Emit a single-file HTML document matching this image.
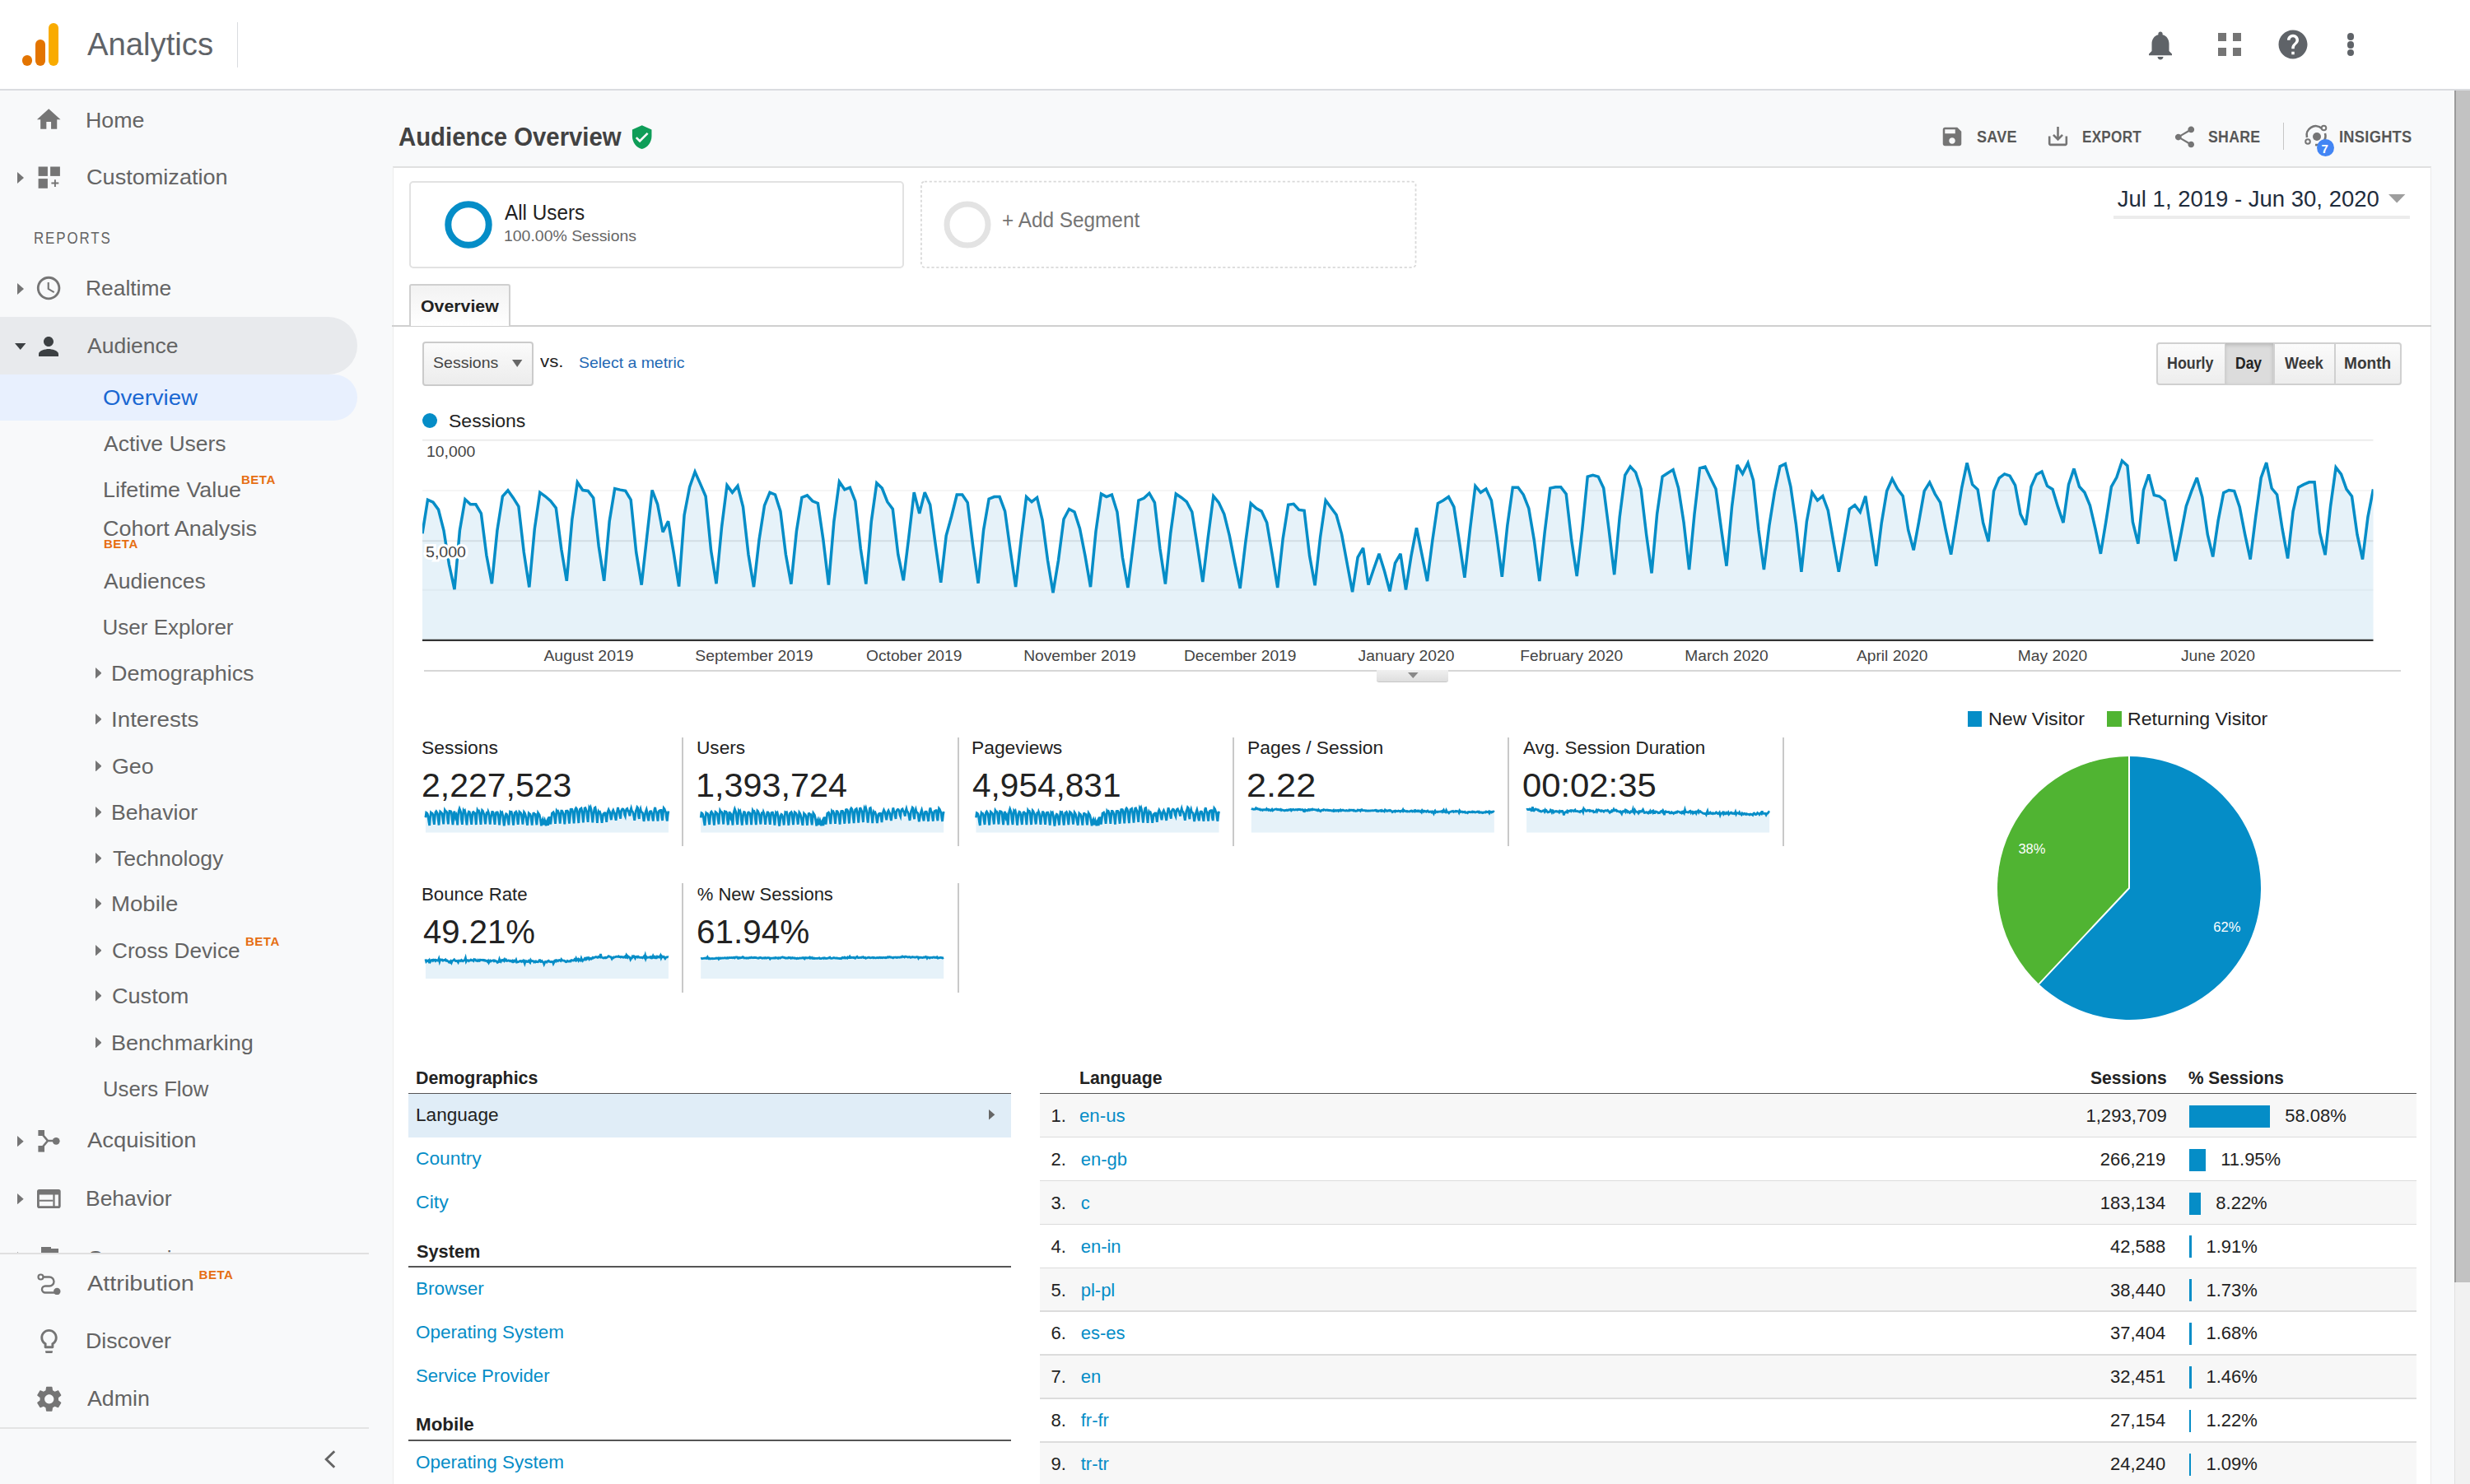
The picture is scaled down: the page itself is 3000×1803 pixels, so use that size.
<!DOCTYPE html><html><head><meta charset="utf-8"><style>
html,body{margin:0;padding:0;}
body{width:3000px;height:1803px;overflow:hidden;position:relative;background:#f8f9fa;font-family:"Liberation Sans", sans-serif;}
.t{position:absolute;white-space:nowrap;line-height:1;}
svg{display:block}
</style></head><body>
<div style="position:absolute;left:0.0px;top:0.0px;width:3000.0px;height:108.0px;background:#fff;"></div>
<div style="position:absolute;left:0.0px;top:108.0px;width:3000.0px;height:2.0px;background:#dadce0;"></div>
<div style="position:absolute;left:58.6px;top:28.0px;width:12.4px;height:51.6px;background:#f9ab00;border-radius:6.2px;"></div>
<div style="position:absolute;left:42.5px;top:47.5px;width:12.8px;height:32.1px;background:#e37400;border-radius:6.4px;"></div>
<div style="position:absolute;left:26.7px;top:67px;width:12.6px;height:12.6px;border-radius:50%;background:#e37400;"></div>
<div class="t" id="k0" style="left:106.0px;top:35.0px;font-size:39px;color:#5f6368;transform-origin:0 50%;transform:scaleX(0.9813);margin-top:-1px;">Analytics</div>
<div style="position:absolute;left:287.5px;top:26.5px;width:1.5px;height:55.0px;background:#dadce0;"></div>
<svg style="position:absolute;left:2603.0px;top:33.8px" width="42.0" height="42.0" viewBox="0 0 24 24"><path fill="#5f6368" d="M12 22c1.1 0 2-.9 2-2h-4c0 1.1.89 2 2 2zm6-6v-5c0-3.07-1.64-5.64-4.5-6.32V4c0-.83-.67-1.5-1.5-1.5s-1.5.67-1.5 1.5v.68C7.63 5.36 6 7.92 6 11v5l-2 2v1h16v-1l-2-2z"/></svg>
<div style="position:absolute;left:2694.0px;top:40.0px;width:10.2px;height:10.2px;background:#757575;"></div>
<div style="position:absolute;left:2711.8px;top:40.0px;width:10.2px;height:10.2px;background:#757575;"></div>
<div style="position:absolute;left:2694.0px;top:57.8px;width:10.2px;height:10.2px;background:#757575;"></div>
<div style="position:absolute;left:2711.8px;top:57.8px;width:10.2px;height:10.2px;background:#757575;"></div>
<svg style="position:absolute;left:2763.8px;top:32.9px" width="42.0" height="42.0" viewBox="0 0 24 24"><path fill="#5f6368" d="M12 2C6.48 2 2 6.48 2 12s4.48 10 10 10 10-4.48 10-10S17.52 2 12 2zm1 17h-2v-2h2v2zm2.07-7.75l-.9.92C13.45 12.9 13 13.5 13 15h-2v-.5c0-1.1.45-2.1 1.17-2.83l1.24-1.26c.37-.36.59-.86.59-1.41 0-1.1-.9-2-2-2s-2 .9-2 2H8c0-2.21 1.79-4 4-4s4 1.79 4 4c0 .88-.36 1.68-.93 2.25z"/></svg>
<div style="position:absolute;left:2850.6px;top:40px;width:8.6px;height:8.6px;border-radius:50%;background:#5f6368;"></div>
<div style="position:absolute;left:2850.6px;top:50px;width:8.6px;height:8.6px;border-radius:50%;background:#5f6368;"></div>
<div style="position:absolute;left:2850.6px;top:59.6px;width:8.6px;height:8.6px;border-radius:50%;background:#5f6368;"></div>
<div style="position:absolute;left:0.0px;top:385.0px;width:434.0px;height:69.5px;background:#e8eaed;border-radius:0 35px 35px 0;"></div>
<div style="position:absolute;left:0.0px;top:454.5px;width:434.0px;height:56.0px;background:#e8f0fe;border-radius:0 28px 28px 0;"></div>
<svg style="position:absolute;left:42.2px;top:128.2px" width="34.4" height="34.4" viewBox="0 0 24 24"><path fill="#757575" d="M10 20v-6h4v6h5v-8h3L12 3 2 12h3v8z"/></svg>
<div class="t" id="k1" style="left:103.6px;top:132.7px;font-size:26px;color:#646464;transform-origin:0 50%;transform:scaleX(1.0303);">Home</div>
<svg style="position:absolute;left:21px;top:209px" width="8" height="14"><path d="M0 0L8 7.0L0 14z" fill="#757575"/></svg>
<svg style="position:absolute;left:40px;top:196px" width="40" height="40" viewBox="0 0 40 40"><rect x="6.6" y="6.5" width="11.3" height="11.4" fill="#757575"/><rect x="21.1" y="6.5" width="11.8" height="11.4" fill="#757575"/><rect x="6.6" y="21.1" width="11.3" height="11.7" fill="#757575"/><path d="M26.9 22.2V30.9M22.4 26.55H31.3" stroke="#757575" stroke-width="1.9"/></svg>
<div class="t" id="k2" style="left:105.0px;top:202.0px;font-size:26px;color:#646464;transform-origin:0 50%;transform:scaleX(1.0420);">Customization</div>
<div class="t" id="k3" style="left:41.4px;top:279.5px;font-size:19.5px;color:#646464;letter-spacing:2.2px;transform-origin:0 50%;transform:scaleX(0.8648);">REPORTS</div>
<svg style="position:absolute;left:21px;top:343.5px" width="8" height="14"><path d="M0 0L8 7.0L0 14z" fill="#757575"/></svg>
<svg style="position:absolute;left:42.3px;top:333.4px" width="34.2" height="34.2" viewBox="0 0 24 24"><path fill="#757575" d="M11.99 2C6.47 2 2 6.48 2 12s4.47 10 9.99 10C17.52 22 22 17.52 22 12S17.52 2 11.99 2zM12 20c-4.42 0-8-3.58-8-8s3.58-8 8-8 8 3.58 8 8-3.58 8-8 8zm.5-13H11v6l5.25 3.15.75-1.23-4.5-2.67z"/></svg>
<div class="t" id="k4" style="left:104.0px;top:337.3px;font-size:26px;color:#646464;transform-origin:0 50%;transform:scaleX(1.0150);">Realtime</div>
<svg style="position:absolute;left:17.8px;top:416.7px" width="13.5" height="8"><path d="M0 0L13.5 0L6.75 8z" fill="#3c4043"/></svg>
<svg style="position:absolute;left:41.2px;top:402.6px" width="36.0" height="36.0" viewBox="0 0 24 24"><path fill="#3c4043" d="M12 12c2.21 0 4-1.79 4-4s-1.79-4-4-4-4 1.79-4 4 1.79 4 4 4zm0 2c-2.67 0-8 1.34-8 4v2h16v-2c0-2.66-5.33-4-8-4z"/></svg>
<div class="t" id="k5" style="left:106.0px;top:406.8px;font-size:26px;color:#646464;transform-origin:0 50%;transform:scaleX(1.0187);">Audience</div>
<div class="t" id="k6" style="left:124.5px;top:469.6px;font-size:26px;color:#1967d2;transform-origin:0 50%;transform:scaleX(1.0617);">Overview</div>
<div class="t" id="k7" style="left:125.6px;top:525.6px;font-size:26px;color:#646464;transform-origin:0 50%;transform:scaleX(1.0181);">Active Users</div>
<div class="t" id="k8" style="left:124.5px;top:581.5px;font-size:26px;color:#646464;transform-origin:0 50%;transform:scaleX(1.0319);">Lifetime Value</div>
<div class="t" id="k9" style="left:293.0px;top:576.7px;font-size:15px;color:#e66e12;font-weight:bold;letter-spacing:0.5px;transform-origin:0 50%;margin-top:-1.5px;">BETA</div>
<div class="t" id="k10" style="left:124.5px;top:627.3px;font-size:26px;color:#646464;transform-origin:0 50%;transform:scaleX(1.0354);margin-top:1.8px;">Cohort Analysis</div>
<div class="t" id="k11" style="left:126.0px;top:653.3px;font-size:15px;color:#e66e12;font-weight:bold;letter-spacing:0.5px;transform-origin:0 50%;">BETA</div>
<div class="t" id="k12" style="left:125.6px;top:693.0px;font-size:26px;color:#646464;transform-origin:0 50%;transform:scaleX(1.0200);">Audiences</div>
<div class="t" id="k13" style="left:124.6px;top:748.6px;font-size:26px;color:#646464;transform-origin:0 50%;">User Explorer</div>
<svg style="position:absolute;left:115.5px;top:811px" width="7.5" height="13.5"><path d="M0 0L7.5 6.75L0 13.5z" fill="#757575"/></svg>
<div class="t" id="k14" style="left:134.9px;top:805.0px;font-size:26px;color:#646464;transform-origin:0 50%;transform:scaleX(1.0354);">Demographics</div>
<svg style="position:absolute;left:115.5px;top:866.5px" width="7.5" height="13.5"><path d="M0 0L7.5 6.75L0 13.5z" fill="#757575"/></svg>
<div class="t" id="k15" style="left:134.8px;top:860.5px;font-size:26px;color:#646464;transform-origin:0 50%;transform:scaleX(1.0667);">Interests</div>
<svg style="position:absolute;left:115.5px;top:923.8px" width="7.5" height="13.5"><path d="M0 0L7.5 6.75L0 13.5z" fill="#757575"/></svg>
<div class="t" id="k16" style="left:135.9px;top:917.8px;font-size:26px;color:#646464;transform-origin:0 50%;transform:scaleX(1.0319);">Geo</div>
<svg style="position:absolute;left:115.5px;top:980px" width="7.5" height="13.5"><path d="M0 0L7.5 6.75L0 13.5z" fill="#757575"/></svg>
<div class="t" id="k17" style="left:134.9px;top:974.0px;font-size:26px;color:#646464;transform-origin:0 50%;transform:scaleX(1.0240);">Behavior</div>
<svg style="position:absolute;left:115.5px;top:1035.6px" width="7.5" height="13.5"><path d="M0 0L7.5 6.75L0 13.5z" fill="#757575"/></svg>
<div class="t" id="k18" style="left:137.0px;top:1029.6px;font-size:26px;color:#646464;transform-origin:0 50%;transform:scaleX(1.0206);">Technology</div>
<svg style="position:absolute;left:115.5px;top:1091px" width="7.5" height="13.5"><path d="M0 0L7.5 6.75L0 13.5z" fill="#757575"/></svg>
<div class="t" id="k19" style="left:134.8px;top:1085.0px;font-size:26px;color:#646464;transform-origin:0 50%;transform:scaleX(1.0616);">Mobile</div>
<svg style="position:absolute;left:115.5px;top:1147.5px" width="7.5" height="13.5"><path d="M0 0L7.5 6.75L0 13.5z" fill="#757575"/></svg>
<div class="t" id="k20" style="left:136.0px;top:1141.5px;font-size:26px;color:#646464;transform-origin:0 50%;transform:scaleX(1.0059);">Cross Device</div>
<svg style="position:absolute;left:115.5px;top:1203.4px" width="7.5" height="13.5"><path d="M0 0L7.5 6.75L0 13.5z" fill="#757575"/></svg>
<div class="t" id="k21" style="left:135.9px;top:1197.4px;font-size:26px;color:#646464;transform-origin:0 50%;transform:scaleX(1.0414);">Custom</div>
<svg style="position:absolute;left:115.5px;top:1259.7px" width="7.5" height="13.5"><path d="M0 0L7.5 6.75L0 13.5z" fill="#757575"/></svg>
<div class="t" id="k22" style="left:134.9px;top:1253.7px;font-size:26px;color:#646464;transform-origin:0 50%;transform:scaleX(1.0395);">Benchmarking</div>
<div class="t" id="k23" style="left:298.0px;top:1135.9px;font-size:15px;color:#e66e12;font-weight:bold;letter-spacing:0.5px;transform-origin:0 50%;">BETA</div>
<div class="t" id="k24" style="left:124.6px;top:1310.0px;font-size:26px;color:#646464;transform-origin:0 50%;transform:scaleX(0.9875);">Users Flow</div>
<svg style="position:absolute;left:21.3px;top:1379.8px" width="7.7" height="13.3"><path d="M0 0L7.7 6.65L0 13.3z" fill="#757575"/></svg>
<svg style="position:absolute;left:44px;top:1370px" width="32" height="32" viewBox="0 0 32 32"><rect x="2.4" y="3" width="7.6" height="7" fill="#757575"/><rect x="2.4" y="22" width="7.6" height="7.6" fill="#757575"/><path d="M6 6.5L14 16L6 25.5M14 16H24" stroke="#757575" stroke-width="2.6" fill="none"/><circle cx="24.2" cy="16.3" r="4.4" fill="#757575"/></svg>
<div class="t" id="k25" style="left:106.1px;top:1371.6px;font-size:26px;color:#646464;transform-origin:0 50%;transform:scaleX(1.0548);">Acquisition</div>
<svg style="position:absolute;left:21.3px;top:1450px" width="7.7" height="13.3"><path d="M0 0L7.7 6.65L0 13.3z" fill="#757575"/></svg>
<svg style="position:absolute;left:45.2px;top:1444.9px" width="28.7" height="23.1" viewBox="0 0 28.7 23.1"><path d="M2.5 0H26.2A2.5 2.5 0 0 1 28.7 2.5V20.6A2.5 2.5 0 0 1 26.2 23.1H2.5A2.5 2.5 0 0 1 0 20.6V2.5A2.5 2.5 0 0 1 2.5 0ZM2.8 6.6V20.3H19.4V6.6ZM21.6 6.6V20.3H25.9V6.6Z" fill="#757575" fill-rule="evenodd"/><rect x="2.8" y="12.7" width="16.6" height="2" fill="#757575"/></svg>
<div class="t" id="k26" style="left:103.9px;top:1443.0px;font-size:26px;color:#646464;transform-origin:0 50%;transform:scaleX(1.0180);">Behavior</div>
<svg style="position:absolute;left:21.3px;top:1521px" width="7.7" height="13.3"><path d="M0 0L7.7 6.65L0 13.3z" fill="#757575"/></svg>
<div style="position:absolute;left:49.5px;top:1514.5px;width:12.5px;height:8.0px;background:#757575;"></div>
<div style="position:absolute;left:62.0px;top:1516.5px;width:9.0px;height:6.0px;background:#757575;"></div>
<div class="t" id="k27" style="left:106.0px;top:1515.5px;font-size:26px;color:#646464;transform-origin:0 50%;">Conversions</div>
<div style="position:absolute;left:0.0px;top:1522.0px;width:478.0px;height:281.0px;background:#f8f9fa;"></div>
<div style="position:absolute;left:0.0px;top:1522.0px;width:448.0px;height:1.5px;background:#e0e0e0;"></div>
<svg style="position:absolute;left:44.8px;top:1546.6px" width="29" height="26" viewBox="0 0 29 26"><circle cx="4.5" cy="4.5" r="3" stroke="#757575" stroke-width="2.2" fill="none"/><path d="M7.5 4.5H15A5.5 5.5 0 0 1 15 15.5H10A4 4 0 0 0 10 23.5H23" stroke="#757575" stroke-width="2.4" fill="none"/><circle cx="24.3" cy="22" r="4.2" fill="#757575"/></svg>
<div class="t" id="k28" style="left:105.9px;top:1545.8px;font-size:26px;color:#646464;transform-origin:0 50%;transform:scaleX(1.1096);">Attribution</div>
<div class="t" id="k29" style="left:241.6px;top:1541.3px;font-size:15px;color:#e66e12;font-weight:bold;letter-spacing:0.5px;transform-origin:0 50%;">BETA</div>
<svg style="position:absolute;left:41.5px;top:1611.5px" width="35.0" height="35.0" viewBox="0 0 24 24"><path fill="#757575" d="M9 21c0 .55.45 1 1 1h4c.55 0 1-.45 1-1v-1H9v1zm3-19C8.14 2 5 5.14 5 9c0 2.38 1.19 4.47 3 5.74V17c0 .55.45 1 1 1h6c.55 0 1-.45 1-1v-2.26c1.81-1.27 3-3.36 3-5.74 0-3.86-3.14-7-7-7zm2.85 11.1l-.85.6V16h-4v-2.3l-.85-.6C7.8 12.160 7 10.63 7 9c0-2.76 2.24-5 5-5s5 2.24 5 5c0 1.630-.8 3.16-2.15 4.1z"/></svg>
<div class="t" id="k30" style="left:103.8px;top:1615.6px;font-size:26px;color:#646464;transform-origin:0 50%;transform:scaleX(1.0283);">Discover</div>
<svg style="position:absolute;left:40.6px;top:1681.4px" width="37.5" height="37.5" viewBox="0 0 24 24"><path fill="#757575" d="M19.14 12.94c.04-.3.06-.61.06-.94 0-.32-.02-.64-.07-.94l2.03-1.58c.18-.14.23-.41.12-.61l-1.92-3.32c-.12-.22-.37-.29-.59-.22l-2.39.96c-.5-.38-1.03-.7-1.62-.94l-.36-2.54c-.04-.24-.24-.41-.48-.41h-3.84c-.24 0-.43.17-.47.41l-.36 2.540c-.59.24-1.13.57-1.62.94l-2.39-.96c-.22-.08-.47 0-.59.22L2.74 8.87c-.12.21-.08.47.12.61l2.03 1.58c-.05.3-.09.63-.09.94s.02.64.07.94l-2.03 1.58c-.18.14-.23.41-.12.61l1.92 3.32c.12.22.37.29.59.22l2.39-.96c.5.38 1.030.7 1.62.94l.36 2.54c.05.24.24.41.48.41h3.84c.24 0 .44-.17.47-.41l.36-2.54c.59-.24 1.13-.56 1.62-.94l2.39.96c.22.08.47 0 .59-.22l1.92-3.32c.12-.22.07-.47-.12-.61l-2.01-1.58zM12 15.6c-1.98 0-3.6-1.62-3.6-3.6s1.62-3.6 3.6-3.6 3.6 1.62 3.6 3.6-1.62 3.6-3.6 3.6z"/></svg>
<div class="t" id="k31" style="left:105.9px;top:1686.0px;font-size:26px;color:#646464;transform-origin:0 50%;transform:scaleX(1.0292);">Admin</div>
<div style="position:absolute;left:0.0px;top:1734.0px;width:448.0px;height:2.0px;background:#e4e4e4;"></div>
<svg style="position:absolute;left:393px;top:1761px" width="16" height="24" viewBox="0 0 16 24"><path d="M13.2 2.2L3.2 12L13.2 21.8" stroke="#646464" stroke-width="2.9" fill="none"/></svg>
<div class="t" id="k32" style="left:483.5px;top:150.3px;font-size:32px;color:#424242;font-weight:bold;transform-origin:0 50%;transform:scaleX(0.9167);">Audience Overview</div>
<svg style="position:absolute;left:763.6px;top:151.0px" width="31.4" height="31.4" viewBox="0 0 24 24"><path fill="#0f9d58" d="M12 1L3 5v6c0 5.55 3.84 10.74 9 12 5.16-1.26 9-6.45 9-12V5l-9-4zm-2 16l-4-4 1.41-1.41L10 14.17l6.59-6.59L18 9l-8 8z"/></svg>
<svg style="position:absolute;left:2356.0px;top:151.0px" width="30.0" height="30.0" viewBox="0 0 24 24"><path fill="#757575" d="M17 3H5c-1.11 0-2 .9-2 2v14c0 1.1.89 2 2 2h14c1.1 0 2-.9 2-2V7l-4-4zm-5 16c-1.66 0-3-1.34-3-3s1.34-3 3-3 3 1.34 3 3-1.34 3-3 3zm3-10H5V5h10v4z"/></svg>
<div class="t" id="k33" style="left:2400.9px;top:156.3px;font-size:20px;color:#575757;font-weight:bold;letter-spacing:0.3px;transform-origin:0 50%;transform:scaleX(0.9000);">SAVE</div>
<svg style="position:absolute;left:2484.0px;top:150.0px" width="31.0" height="31.0" viewBox="0 0 24 24"><path fill="#757575" d="M19 12v7H5v-7H3v7c0 1.1.9 2 2 2h14c1.1 0 2-.9 2-2v-7h-2zm-6 .67l2.59-2.58L17 11.5l-5 5-5-5 1.41-1.41L11 12.67V3h2z"/></svg>
<div class="t" id="k34" style="left:2529.0px;top:156.3px;font-size:20px;color:#575757;font-weight:bold;letter-spacing:0.3px;transform-origin:0 50%;transform:scaleX(0.8566);">EXPORT</div>
<svg style="position:absolute;left:2638.0px;top:150.5px" width="31.0" height="31.0" viewBox="0 0 24 24"><path fill="#757575" d="M18 16.08c-.76 0-1.44.3-1.96.77L8.91 12.7c.05-.23.09-.46.09-.7s-.04-.47-.09-.7l7.05-4.11c.54.5 1.25.81 2.04.81 1.66 0 3-1.34 3-3s-1.34-3-3-3-3 1.34-3 3c0 .24.04.47.09.7L8.04 9.81C7.5 9.31 6.79 9 6 9c-1.66 0-3 1.34-3 3s1.34 3 3 3c.79 0 1.5-.31 2.04-.81l7.12 4.16c-.05.21-.08.43-.08.65 0 1.61 1.31 2.92 2.92 2.92 1.61 0 2.92-1.310 2.92-2.92s-1.31-2.92-2.92-2.92z"/></svg>
<div class="t" id="k35" style="left:2681.5px;top:156.3px;font-size:20px;color:#575757;font-weight:bold;letter-spacing:0.3px;transform-origin:0 50%;transform:scaleX(0.8855);">SHARE</div>
<div style="position:absolute;left:2772.5px;top:149.0px;width:1.5px;height:33.0px;background:#c6c6c6;"></div>
<svg style="position:absolute;left:2798px;top:150px" width="32" height="32" viewBox="0 0 32 32"><path d="M4 17A11 11 0 0 1 22 6" stroke="#757575" stroke-width="2.6" fill="none"/><path d="M26 12A11 11 0 0 1 14 26" stroke="#757575" stroke-width="2.6" fill="none"/><circle cx="16" cy="16" r="5" fill="#757575"/><circle cx="24.5" cy="5.5" r="2.8" stroke="#757575" stroke-width="2" fill="#f8f9fa"/><circle cx="5" cy="22" r="2.8" stroke="#757575" stroke-width="2" fill="#f8f9fa"/></svg>
<div style="position:absolute;left:2814px;top:168.5px;width:21px;height:21px;border-radius:50%;background:#4285f4;"></div>
<div class="t" id="k36" style="left:2819.5px;top:173.3px;font-size:15px;color:#fff;font-weight:bold;transform-origin:0 50%;">7</div>
<div class="t" id="k37" style="left:2840.9px;top:156.3px;font-size:20px;color:#575757;font-weight:bold;letter-spacing:0.3px;transform-origin:0 50%;transform:scaleX(0.9138);">INSIGHTS</div>
<div style="position:absolute;left:476.5px;top:201.5px;width:2476.5px;height:1700.0px;background:#fff;border:1.5px solid #ececec;border-top:2px solid #e0e0e0;box-sizing:border-box;"></div>
<div style="position:absolute;left:496.6px;top:219.7px;width:601.4px;height:106.3px;border:2px solid #e2e2e2;border-radius:5px;box-sizing:border-box;"></div>
<svg style="position:absolute;left:536px;top:240px" width="66" height="66"><circle cx="33" cy="33" r="24.7" stroke="#058dc7" stroke-width="8" fill="none"/></svg>
<div class="t" id="k38" style="left:612.6px;top:245.8px;font-size:25px;color:#212121;transform-origin:0 50%;transform:scaleX(0.9714);">All Users</div>
<div class="t" id="k39" style="left:612.0px;top:276.6px;font-size:19px;color:#666;transform-origin:0 50%;transform:scaleX(1.0231);">100.00% Sessions</div>
<svg style="position:absolute;left:1117px;top:219px" width="605" height="108"><rect x="1.9" y="1.7" width="600.6" height="104.1" rx="4" fill="none" stroke="#d9d9d9" stroke-width="1.8" stroke-dasharray="3.2 2.6"/></svg>
<svg style="position:absolute;left:1141.5px;top:239.5px" width="66" height="66"><circle cx="33" cy="33" r="25" stroke="#e3e3e3" stroke-width="7" fill="none"/></svg>
<div class="t" id="k40" style="left:1216.9px;top:254.3px;font-size:26px;color:#757575;transform-origin:0 50%;transform:scaleX(0.9367);">+ Add Segment</div>
<div class="t" id="k41" style="right:110.2px;top:227.8px;font-size:27.5px;color:#1f2d3d;transform-origin:100% 50%;">Jul 1, 2019 - Jun 30, 2020</div>
<svg style="position:absolute;left:2901px;top:236px" width="21" height="11"><path d="M0 0H20.4L10.2 10.5z" fill="#9e9e9e"/></svg>
<div style="position:absolute;left:2567.0px;top:262.0px;width:360.0px;height:3.5px;background:#ececec;"></div>
<div style="position:absolute;left:476.0px;top:394.5px;width:2477.0px;height:2.0px;background:#cfcfcf;"></div>
<div style="position:absolute;left:497.0px;top:345.0px;width:123.0px;height:51.0px;background:linear-gradient(#f2f2f2,#fff);border:2px solid #cfcfcf;border-bottom:none;border-radius:3px 3px 0 0;box-sizing:border-box;"></div>
<div class="t" id="k42" style="left:511.0px;top:360.6px;font-size:21px;color:#222;font-weight:bold;transform-origin:0 50%;transform:scaleX(1.0141);">Overview</div>
<div style="position:absolute;left:513.2px;top:415.2px;width:134.6px;height:53.4px;background:linear-gradient(#fbfbfb,#ececec);border:2px solid #cbcbcb;border-radius:4px;box-sizing:border-box;"></div>
<div class="t" id="k43" style="left:526.0px;top:431.3px;font-size:19px;color:#444;transform-origin:0 50%;transform:scaleX(1.0293);">Sessions</div>
<svg style="position:absolute;left:622px;top:437px" width="13" height="10"><path d="M0 0H12.4L6.2 9z" fill="#666"/></svg>
<div class="t" id="k44" style="left:656.4px;top:429.1px;font-size:20px;color:#222;transform-origin:0 50%;transform:scaleX(1.1125);">vs.</div>
<div class="t" id="k45" style="left:703.4px;top:431.3px;font-size:19px;color:#1f69b4;transform-origin:0 50%;transform:scaleX(1.0234);">Select a metric</div>
<div style="position:absolute;left:2618.6px;top:415.5px;width:298.7px;height:52.5px;background:linear-gradient(#fbfbfb,#ededed);border:2px solid #d0d0d0;border-radius:4px;box-sizing:border-box;"></div>
<div style="position:absolute;left:2702.0px;top:417.0px;width:59.0px;height:49.5px;background:#dcdcdc;box-shadow:inset 0 2px 5px rgba(0,0,0,0.18);"></div>
<div style="position:absolute;left:2701.5px;top:417.0px;width:1.5px;height:49.5px;background:#d0d0d0;"></div>
<div style="position:absolute;left:2761.0px;top:417.0px;width:1.5px;height:49.5px;background:#d0d0d0;"></div>
<div style="position:absolute;left:2835.0px;top:417.0px;width:1.5px;height:49.5px;background:#d0d0d0;"></div>
<div class="t" id="k46" style="left:2632.1px;top:431.5px;font-size:19.5px;color:#3a3a3a;font-weight:bold;transform-origin:0 50%;transform:scaleX(0.9148);">Hourly</div>
<div class="t" id="k47" style="left:2715.1px;top:431.5px;font-size:19.5px;color:#222;font-weight:bold;transform-origin:0 50%;transform:scaleX(0.8971);">Day</div>
<div class="t" id="k48" style="left:2775.0px;top:431.5px;font-size:19.5px;color:#3a3a3a;font-weight:bold;transform-origin:0 50%;transform:scaleX(0.9240);">Week</div>
<div class="t" id="k49" style="left:2847.4px;top:431.5px;font-size:19.5px;color:#3a3a3a;font-weight:bold;transform-origin:0 50%;transform:scaleX(0.9786);">Month</div>
<div style="position:absolute;left:513px;top:502px;width:18px;height:18px;border-radius:50%;background:#058dc7;"></div>
<div class="t" id="k50" style="left:544.5px;top:500.6px;font-size:22px;color:#222;transform-origin:0 50%;transform:scaleX(1.0460);">Sessions</div>
<svg style="position:absolute;left:0;top:0" width="3000" height="830" viewBox="0 0 3000 830"><defs><clipPath id="cc"><rect x="513" y="500" width="1369.5" height="300"/><rect x="513" y="500" width="2369.5" height="300"/></clipPath></defs><path d="M513.0,777.7 L513.0,648.3 L519.5,607.2 L526.0,610.2 L532.5,619.1 L539.0,644.5 L545.5,686.0 L552.0,716.2 L558.4,644.5 L564.9,606.8 L571.4,612.8 L577.9,612.8 L584.4,623.8 L590.9,674.7 L597.4,709.2 L603.9,644.5 L610.4,603.0 L616.9,595.8 L623.4,604.9 L629.9,615.3 L636.3,670.9 L642.8,713.4 L649.3,642.6 L655.8,598.3 L662.3,603.0 L668.8,608.7 L675.3,617.2 L681.8,667.2 L688.3,705.8 L694.8,631.3 L701.3,586.0 L707.8,595.5 L714.2,596.4 L720.7,604.9 L727.2,663.4 L733.7,705.8 L740.2,633.2 L746.7,593.6 L753.2,595.1 L759.7,596.4 L766.2,607.2 L772.7,670.9 L779.2,710.6 L785.7,652.1 L792.1,595.5 L798.6,612.5 L805.1,646.4 L811.6,633.2 L818.1,670.9 L824.6,712.5 L831.1,625.7 L837.6,591.7 L844.1,573.2 L850.6,587.9 L857.1,603.0 L863.6,669.1 L870.0,709.2 L876.5,640.8 L883.0,589.6 L889.5,598.3 L896.0,590.4 L902.5,615.9 L909.0,673.7 L915.5,713.1 L922.0,656.1 L928.5,614.1 L935.0,598.3 L941.5,601.0 L947.9,621.1 L954.4,673.7 L960.9,709.6 L967.4,645.6 L973.9,604.5 L980.4,601.8 L986.9,608.8 L993.4,611.5 L999.9,656.1 L1006.4,710.5 L1012.9,633.4 L1019.4,585.2 L1025.9,594.8 L1032.3,592.2 L1038.8,608.8 L1045.3,666.7 L1051.8,709.6 L1058.3,633.4 L1064.8,586.9 L1071.3,593.1 L1077.8,609.7 L1084.3,618.5 L1090.8,673.7 L1097.3,705.2 L1103.8,652.6 L1110.2,598.3 L1116.7,623.7 L1123.2,598.3 L1129.7,613.2 L1136.2,661.4 L1142.7,707.8 L1149.2,650.9 L1155.7,627.2 L1162.2,601.0 L1168.7,601.0 L1175.2,610.6 L1181.7,663.2 L1188.1,708.7 L1194.6,643.9 L1201.1,606.2 L1207.6,603.6 L1214.1,603.6 L1220.6,621.1 L1227.1,668.4 L1233.6,713.1 L1240.1,656.1 L1246.6,603.6 L1253.1,609.7 L1259.6,604.5 L1266.0,631.6 L1272.5,680.7 L1279.0,720.1 L1285.5,680.7 L1292.0,630.7 L1298.5,618.5 L1305.0,622.0 L1311.5,642.1 L1318.0,675.4 L1324.5,713.1 L1331.0,645.6 L1337.5,600.1 L1343.9,603.6 L1350.4,601.0 L1356.9,622.0 L1363.4,677.2 L1369.9,714.0 L1376.4,661.4 L1382.9,608.0 L1389.4,605.3 L1395.9,599.2 L1402.4,610.6 L1408.9,666.7 L1415.4,709.6 L1421.8,647.4 L1428.3,600.1 L1434.8,604.5 L1441.3,609.7 L1447.8,622.0 L1454.3,663.2 L1460.8,707.0 L1467.3,652.6 L1473.8,602.7 L1480.3,610.6 L1486.8,624.6 L1493.3,650.9 L1499.8,684.2 L1506.2,714.8 L1512.7,659.7 L1519.2,611.5 L1525.7,617.6 L1532.2,621.1 L1538.7,635.1 L1545.2,673.7 L1551.7,714.0 L1558.2,654.4 L1564.7,613.2 L1571.2,612.3 L1577.7,619.4 L1584.1,620.2 L1590.6,675.4 L1597.1,711.3 L1603.6,652.6 L1610.1,608.0 L1616.6,616.7 L1623.1,625.5 L1629.6,649.1 L1636.1,684.2 L1642.6,719.2 L1649.1,677.2 L1655.6,665.8 L1662.0,710.5 L1668.5,691.2 L1675.0,672.8 L1681.5,693.8 L1688.0,718.3 L1694.5,684.2 L1701.0,672.8 L1707.5,716.6 L1714.0,675.4 L1720.5,641.3 L1727.0,673.7 L1733.5,706.1 L1739.9,656.1 L1746.4,611.5 L1752.9,608.0 L1759.4,603.6 L1765.9,615.9 L1772.4,657.9 L1778.9,701.7 L1785.4,643.9 L1791.9,590.4 L1798.4,598.3 L1804.9,594.0 L1811.4,608.0 L1817.8,650.9 L1824.3,700.8 L1830.8,638.6 L1837.3,592.2 L1843.8,592.2 L1850.3,601.0 L1856.8,617.6 L1863.3,656.1 L1869.8,706.1 L1876.3,645.6 L1882.8,593.1 L1889.3,591.7 L1895.7,591.7 L1902.2,600.1 L1908.7,656.1 L1915.2,700.0 L1921.7,643.9 L1928.2,579.1 L1934.7,577.3 L1941.2,579.1 L1947.7,593.1 L1954.2,643.9 L1960.7,698.2 L1967.2,628.1 L1973.7,577.3 L1980.1,566.8 L1986.6,573.8 L1993.1,594.0 L1999.6,649.1 L2006.1,696.4 L2012.6,624.6 L2019.1,579.1 L2025.6,574.7 L2032.1,570.6 L2038.6,593.1 L2045.1,635.1 L2051.6,692.1 L2058.0,624.6 L2064.5,568.9 L2071.0,567.1 L2077.5,580.8 L2084.0,594.0 L2090.5,642.1 L2097.0,687.7 L2103.5,615.9 L2110.0,565.0 L2116.5,575.6 L2123.0,562.4 L2129.5,583.4 L2135.9,643.9 L2142.4,692.1 L2148.9,638.6 L2155.4,597.5 L2161.9,566.8 L2168.4,563.6 L2174.9,591.3 L2181.4,636.9 L2187.9,694.7 L2194.4,633.4 L2200.9,598.3 L2207.4,608.0 L2213.8,602.7 L2220.3,620.2 L2226.8,657.9 L2233.3,694.7 L2239.8,656.1 L2246.3,618.5 L2252.8,613.7 L2259.3,622.0 L2265.8,602.7 L2272.3,645.6 L2278.8,687.7 L2285.3,635.1 L2291.7,596.6 L2298.2,581.7 L2304.7,594.0 L2311.2,602.7 L2317.7,643.9 L2324.2,668.4 L2330.7,633.4 L2337.2,596.6 L2343.7,586.1 L2350.2,600.1 L2356.7,610.6 L2363.2,643.9 L2369.6,673.7 L2376.1,633.4 L2382.6,593.1 L2389.1,562.4 L2395.6,588.7 L2402.1,594.8 L2408.6,635.1 L2415.1,657.9 L2421.6,596.6 L2428.1,580.8 L2434.6,575.9 L2441.1,578.2 L2447.6,589.6 L2454.0,624.6 L2460.5,637.8 L2467.0,591.3 L2473.5,576.4 L2480.0,572.9 L2486.5,590.4 L2493.0,594.5 L2499.5,615.9 L2506.0,635.1 L2512.5,588.7 L2519.0,569.4 L2525.5,591.3 L2531.9,598.3 L2538.4,614.1 L2544.9,642.1 L2551.4,672.8 L2557.9,633.4 L2564.4,591.3 L2570.9,579.9 L2577.4,559.8 L2583.9,565.9 L2590.4,634.2 L2596.9,660.5 L2603.4,595.5 L2609.8,576.5 L2616.3,601.5 L2622.8,603.0 L2629.3,608.4 L2635.8,645.1 L2642.3,681.7 L2648.8,649.4 L2655.3,614.9 L2661.8,596.6 L2668.3,580.4 L2674.8,604.1 L2681.3,649.4 L2687.7,676.4 L2694.2,632.1 L2700.7,598.7 L2707.2,595.5 L2713.7,596.6 L2720.2,616.0 L2726.7,649.4 L2733.2,679.6 L2739.7,627.8 L2746.2,580.4 L2752.7,562.1 L2759.2,593.3 L2765.6,600.9 L2772.1,642.9 L2778.6,678.5 L2785.1,621.4 L2791.6,592.2 L2798.1,588.6 L2804.6,585.8 L2811.1,585.8 L2817.6,647.2 L2824.1,674.2 L2830.6,614.9 L2837.1,567.9 L2843.5,576.1 L2850.0,594.4 L2856.5,603.0 L2863.0,649.4 L2869.5,679.6 L2876.0,627.8 L2882.5,594.4 L2882.5,777.7 Z" fill="#e6f2f9"/><line x1="513" y1="534.7" x2="2882.5" y2="534.7" stroke="rgba(0,0,0,0.075)" stroke-width="2"/><line x1="513" y1="595.9" x2="2882.5" y2="595.9" stroke="rgba(0,0,0,0.04)" stroke-width="2"/><line x1="513" y1="657.2" x2="2882.5" y2="657.2" stroke="rgba(0,0,0,0.085)" stroke-width="2"/><line x1="513" y1="716.7" x2="2882.5" y2="716.7" stroke="rgba(0,0,0,0.03)" stroke-width="2"/><polyline points="513.0,648.3 519.5,607.2 526.0,610.2 532.5,619.1 539.0,644.5 545.5,686.0 552.0,716.2 558.4,644.5 564.9,606.8 571.4,612.8 577.9,612.8 584.4,623.8 590.9,674.7 597.4,709.2 603.9,644.5 610.4,603.0 616.9,595.8 623.4,604.9 629.9,615.3 636.3,670.9 642.8,713.4 649.3,642.6 655.8,598.3 662.3,603.0 668.8,608.7 675.3,617.2 681.8,667.2 688.3,705.8 694.8,631.3 701.3,586.0 707.8,595.5 714.2,596.4 720.7,604.9 727.2,663.4 733.7,705.8 740.2,633.2 746.7,593.6 753.2,595.1 759.7,596.4 766.2,607.2 772.7,670.9 779.2,710.6 785.7,652.1 792.1,595.5 798.6,612.5 805.1,646.4 811.6,633.2 818.1,670.9 824.6,712.5 831.1,625.7 837.6,591.7 844.1,573.2 850.6,587.9 857.1,603.0 863.6,669.1 870.0,709.2 876.5,640.8 883.0,589.6 889.5,598.3 896.0,590.4 902.5,615.9 909.0,673.7 915.5,713.1 922.0,656.1 928.5,614.1 935.0,598.3 941.5,601.0 947.9,621.1 954.4,673.7 960.9,709.6 967.4,645.6 973.9,604.5 980.4,601.8 986.9,608.8 993.4,611.5 999.9,656.1 1006.4,710.5 1012.9,633.4 1019.4,585.2 1025.9,594.8 1032.3,592.2 1038.8,608.8 1045.3,666.7 1051.8,709.6 1058.3,633.4 1064.8,586.9 1071.3,593.1 1077.8,609.7 1084.3,618.5 1090.8,673.7 1097.3,705.2 1103.8,652.6 1110.2,598.3 1116.7,623.7 1123.2,598.3 1129.7,613.2 1136.2,661.4 1142.7,707.8 1149.2,650.9 1155.7,627.2 1162.2,601.0 1168.7,601.0 1175.2,610.6 1181.7,663.2 1188.1,708.7 1194.6,643.9 1201.1,606.2 1207.6,603.6 1214.1,603.6 1220.6,621.1 1227.1,668.4 1233.6,713.1 1240.1,656.1 1246.6,603.6 1253.1,609.7 1259.6,604.5 1266.0,631.6 1272.5,680.7 1279.0,720.1 1285.5,680.7 1292.0,630.7 1298.5,618.5 1305.0,622.0 1311.5,642.1 1318.0,675.4 1324.5,713.1 1331.0,645.6 1337.5,600.1 1343.9,603.6 1350.4,601.0 1356.9,622.0 1363.4,677.2 1369.9,714.0 1376.4,661.4 1382.9,608.0 1389.4,605.3 1395.9,599.2 1402.4,610.6 1408.9,666.7 1415.4,709.6 1421.8,647.4 1428.3,600.1 1434.8,604.5 1441.3,609.7 1447.8,622.0 1454.3,663.2 1460.8,707.0 1467.3,652.6 1473.8,602.7 1480.3,610.6 1486.8,624.6 1493.3,650.9 1499.8,684.2 1506.2,714.8 1512.7,659.7 1519.2,611.5 1525.7,617.6 1532.2,621.1 1538.7,635.1 1545.2,673.7 1551.7,714.0 1558.2,654.4 1564.7,613.2 1571.2,612.3 1577.7,619.4 1584.1,620.2 1590.6,675.4 1597.1,711.3 1603.6,652.6 1610.1,608.0 1616.6,616.7 1623.1,625.5 1629.6,649.1 1636.1,684.2 1642.6,719.2 1649.1,677.2 1655.6,665.8 1662.0,710.5 1668.5,691.2 1675.0,672.8 1681.5,693.8 1688.0,718.3 1694.5,684.2 1701.0,672.8 1707.5,716.6 1714.0,675.4 1720.5,641.3 1727.0,673.7 1733.5,706.1 1739.9,656.1 1746.4,611.5 1752.9,608.0 1759.4,603.6 1765.9,615.9 1772.4,657.9 1778.9,701.7 1785.4,643.9 1791.9,590.4 1798.4,598.3 1804.9,594.0 1811.4,608.0 1817.8,650.9 1824.3,700.8 1830.8,638.6 1837.3,592.2 1843.8,592.2 1850.3,601.0 1856.8,617.6 1863.3,656.1 1869.8,706.1 1876.3,645.6 1882.8,593.1 1889.3,591.7 1895.7,591.7 1902.2,600.1 1908.7,656.1 1915.2,700.0 1921.7,643.9 1928.2,579.1 1934.7,577.3 1941.2,579.1 1947.7,593.1 1954.2,643.9 1960.7,698.2 1967.2,628.1 1973.7,577.3 1980.1,566.8 1986.6,573.8 1993.1,594.0 1999.6,649.1 2006.1,696.4 2012.6,624.6 2019.1,579.1 2025.6,574.7 2032.1,570.6 2038.6,593.1 2045.1,635.1 2051.6,692.1 2058.0,624.6 2064.5,568.9 2071.0,567.1 2077.5,580.8 2084.0,594.0 2090.5,642.1 2097.0,687.7 2103.5,615.9 2110.0,565.0 2116.5,575.6 2123.0,562.4 2129.5,583.4 2135.9,643.9 2142.4,692.1 2148.9,638.6 2155.4,597.5 2161.9,566.8 2168.4,563.6 2174.9,591.3 2181.4,636.9 2187.9,694.7 2194.4,633.4 2200.9,598.3 2207.4,608.0 2213.8,602.7 2220.3,620.2 2226.8,657.9 2233.3,694.7 2239.8,656.1 2246.3,618.5 2252.8,613.7 2259.3,622.0 2265.8,602.7 2272.3,645.6 2278.8,687.7 2285.3,635.1 2291.7,596.6 2298.2,581.7 2304.7,594.0 2311.2,602.7 2317.7,643.9 2324.2,668.4 2330.7,633.4 2337.2,596.6 2343.7,586.1 2350.2,600.1 2356.7,610.6 2363.2,643.9 2369.6,673.7 2376.1,633.4 2382.6,593.1 2389.1,562.4 2395.6,588.7 2402.1,594.8 2408.6,635.1 2415.1,657.9 2421.6,596.6 2428.1,580.8 2434.6,575.9 2441.1,578.2 2447.6,589.6 2454.0,624.6 2460.5,637.8 2467.0,591.3 2473.5,576.4 2480.0,572.9 2486.5,590.4 2493.0,594.5 2499.5,615.9 2506.0,635.1 2512.5,588.7 2519.0,569.4 2525.5,591.3 2531.9,598.3 2538.4,614.1 2544.9,642.1 2551.4,672.8 2557.9,633.4 2564.4,591.3 2570.9,579.9 2577.4,559.8 2583.9,565.9 2590.4,634.2 2596.9,660.5 2603.4,595.5 2609.8,576.5 2616.3,601.5 2622.8,603.0 2629.3,608.4 2635.8,645.1 2642.3,681.7 2648.8,649.4 2655.3,614.9 2661.8,596.6 2668.3,580.4 2674.8,604.1 2681.3,649.4 2687.7,676.4 2694.2,632.1 2700.7,598.7 2707.2,595.5 2713.7,596.6 2720.2,616.0 2726.7,649.4 2733.2,679.6 2739.7,627.8 2746.2,580.4 2752.7,562.1 2759.2,593.3 2765.6,600.9 2772.1,642.9 2778.6,678.5 2785.1,621.4 2791.6,592.2 2798.1,588.6 2804.6,585.8 2811.1,585.8 2817.6,647.2 2824.1,674.2 2830.6,614.9 2837.1,567.9 2843.5,576.1 2850.0,594.4 2856.5,603.0 2863.0,649.4 2869.5,679.6 2876.0,627.8 2882.5,594.4" fill="none" stroke="#058dc7" stroke-width="3.5" stroke-linejoin="miter" stroke-miterlimit="3" clip-path="url(#cc)"/><line x1="513" y1="777.9000000000001" x2="2882.5" y2="777.9000000000001" stroke="#333" stroke-width="2.3"/><line x1="515" y1="815" x2="2916" y2="815" stroke="#c8c8c8" stroke-width="1.6"/></svg>
<div class="t" id="k51" style="left:518.0px;top:540.0px;font-size:18.5px;color:#fff;transform-origin:0 50%;transform:scaleX(1.0473);-webkit-text-stroke:6px #fff;">10,000</div>
<div class="t" id="k52" style="left:518.0px;top:540.0px;font-size:18.5px;color:#444;transform-origin:0 50%;transform:scaleX(1.0473);">10,000</div>
<div class="t" id="k53" style="left:516.9px;top:661.6px;font-size:18.5px;color:#fff;transform-origin:0 50%;transform:scaleX(1.0578);-webkit-text-stroke:6px #fff;">5,000</div>
<div class="t" id="k54" style="left:516.9px;top:661.6px;font-size:18.5px;color:#444;transform-origin:0 50%;transform:scaleX(1.0578);">5,000</div>
<div class="t" id="k55" style="left:415.3px;width:600px;text-align:center;top:786.7px;font-size:19.2px;color:#444;transform-origin:50% 50%;transform:scaleX(1.0132);">August 2019</div>
<div class="t" id="k56" style="left:615.5px;width:600px;text-align:center;top:786.7px;font-size:19.2px;color:#444;transform-origin:50% 50%;transform:scaleX(1.0100);">September 2019</div>
<div class="t" id="k57" style="left:810.2px;width:600px;text-align:center;top:786.7px;font-size:19.2px;color:#444;transform-origin:50% 50%;">October 2019</div>
<div class="t" id="k58" style="left:1011.5px;width:600px;text-align:center;top:786.7px;font-size:19.2px;color:#444;transform-origin:50% 50%;">November 2019</div>
<div class="t" id="k59" style="left:1206.2px;width:600px;text-align:center;top:786.7px;font-size:19.2px;color:#444;transform-origin:50% 50%;">December 2019</div>
<div class="t" id="k60" style="left:1407.5px;width:600px;text-align:center;top:786.7px;font-size:19.2px;color:#444;transform-origin:50% 50%;transform:scaleX(1.0052);">January 2020</div>
<div class="t" id="k61" style="left:1608.7px;width:600px;text-align:center;top:786.7px;font-size:19.2px;color:#444;transform-origin:50% 50%;">February 2020</div>
<div class="t" id="k62" style="left:1797.0px;width:600px;text-align:center;top:786.7px;font-size:19.2px;color:#444;transform-origin:50% 50%;">March 2020</div>
<div class="t" id="k63" style="left:1998.2px;width:600px;text-align:center;top:786.7px;font-size:19.2px;color:#444;transform-origin:50% 50%;">April 2020</div>
<div class="t" id="k64" style="left:2193.0px;width:600px;text-align:center;top:786.7px;font-size:19.2px;color:#444;transform-origin:50% 50%;">May 2020</div>
<div class="t" id="k65" style="left:2394.0px;width:600px;text-align:center;top:786.7px;font-size:19.2px;color:#444;transform-origin:50% 50%;transform:scaleX(1.0045);">June 2020</div>
<div style="position:absolute;left:1672.4px;top:814.3px;width:86.3px;height:14.3px;background:linear-gradient(#f0f0f0,#dedede);border-bottom:1.5px solid #c6c6c6;border-radius:0 0 3px 3px;box-sizing:border-box;"></div>
<svg style="position:absolute;left:1710px;top:817px" width="13" height="8"><path d="M0 0H12.6L6.3 7z" fill="#888"/></svg>
<div class="t" id="k66" style="left:512.1px;top:898.4px;font-size:22px;color:#222;transform-origin:0 50%;transform:scaleX(1.0402);">Sessions</div>
<div class="t" id="k67" style="left:512.0px;top:934.1px;font-size:41px;color:#222;transform-origin:0 50%;">2,227,523</div>
<div style="position:absolute;left:828.2px;top:896.0px;width:2.0px;height:132.3px;background:#c9c9c9;"></div>
<svg style="position:absolute;left:0;top:0" width="3000" height="1803"><path d="M516.9,1011.6 L516.9,993.2 L517.7,987.3 L518.5,987.8 L519.3,989.0 L520.1,992.7 L520.9,998.6 L521.7,1002.9 L522.6,992.7 L523.4,987.3 L524.2,988.1 L525.0,988.1 L525.8,989.7 L526.6,996.9 L527.4,1001.9 L528.2,992.7 L529.0,986.8 L529.8,985.7 L530.6,987.0 L531.4,988.5 L532.3,996.4 L533.1,1002.5 L533.9,992.4 L534.7,986.1 L535.5,986.8 L536.3,987.6 L537.1,988.8 L537.9,995.9 L538.7,1001.4 L539.5,990.8 L540.3,984.3 L541.1,985.7 L542.0,985.8 L542.8,987.0 L543.6,995.3 L544.4,1001.4 L545.2,991.0 L546.0,985.4 L546.8,985.6 L547.6,985.8 L548.4,987.3 L549.2,996.4 L550.0,1002.0 L550.8,993.7 L551.7,985.7 L552.5,988.1 L553.3,992.9 L554.1,991.0 L554.9,996.4 L555.7,1002.3 L556.5,990.0 L557.3,985.1 L558.1,982.5 L558.9,984.6 L559.7,986.8 L560.5,996.1 L561.4,1001.9 L562.2,992.1 L563.0,984.8 L563.8,986.1 L564.6,985.0 L565.4,988.6 L566.2,996.8 L567.0,1002.4 L567.8,994.3 L568.6,988.3 L569.4,986.1 L570.2,986.5 L571.1,989.3 L571.9,996.8 L572.7,1001.9 L573.5,992.8 L574.3,987.0 L575.1,986.6 L575.9,987.6 L576.7,988.0 L577.5,994.3 L578.3,1002.0 L579.1,991.1 L579.9,984.2 L580.7,985.6 L581.6,985.2 L582.4,987.6 L583.2,995.8 L584.0,1001.9 L584.8,991.1 L585.6,984.5 L586.4,985.3 L587.2,987.7 L588.0,988.9 L588.8,996.8 L589.6,1001.3 L590.4,993.8 L591.3,986.1 L592.1,989.7 L592.9,986.1 L593.7,988.2 L594.5,995.1 L595.3,1001.7 L596.1,993.6 L596.9,990.2 L597.7,986.5 L598.5,986.5 L599.3,987.8 L600.1,995.3 L601.0,1001.8 L601.8,992.6 L602.6,987.2 L603.4,986.8 L604.2,986.8 L605.0,989.3 L605.8,996.1 L606.6,1002.4 L607.4,994.3 L608.2,986.8 L609.0,987.7 L609.8,987.0 L610.7,990.8 L611.5,997.8 L612.3,1003.4 L613.1,997.8 L613.9,990.7 L614.7,988.9 L615.5,989.4 L616.3,992.3 L617.1,997.1 L617.9,1002.4 L618.7,992.8 L619.5,986.3 L620.4,986.8 L621.2,986.5 L622.0,989.4 L622.8,997.3 L623.6,1002.5 L624.4,995.1 L625.2,987.5 L626.0,987.1 L626.8,986.2 L627.6,987.8 L628.4,995.8 L629.2,1001.9 L630.1,993.1 L630.9,986.3 L631.7,987.0 L632.5,987.7 L633.3,989.4 L634.1,995.3 L634.9,1001.5 L635.7,993.8 L636.5,986.7 L637.3,987.8 L638.1,989.8 L638.9,993.6 L639.7,998.3 L640.6,1002.7 L641.4,994.8 L642.2,988.0 L643.0,988.8 L643.8,989.3 L644.6,991.3 L645.4,996.8 L646.2,1002.5 L647.0,994.1 L647.8,988.2 L648.6,988.1 L649.4,989.1 L650.3,989.2 L651.1,997.1 L651.9,1002.2 L652.7,993.8 L653.5,987.5 L654.3,988.7 L655.1,989.9 L655.9,993.3 L656.7,998.3 L657.5,1003.3 L658.3,997.3 L659.1,995.7 L660.0,1002.0 L660.8,999.3 L661.6,996.7 L662.4,999.7 L663.2,1003.2 L664.0,998.3 L664.8,996.7 L665.6,1002.9 L666.4,997.1 L667.2,992.2 L668.0,996.8 L668.8,1001.4 L669.7,994.3 L670.5,988.0 L671.3,987.5 L672.1,986.8 L672.9,988.6 L673.7,994.6 L674.5,1000.8 L675.3,992.6 L676.1,985.0 L676.9,986.1 L677.7,985.5 L678.5,987.5 L679.4,993.6 L680.2,1000.7 L681.0,991.8 L681.8,985.2 L682.6,985.2 L683.4,986.5 L684.2,988.8 L685.0,994.3 L685.8,1001.4 L686.6,992.8 L687.4,985.3 L688.2,985.1 L689.1,985.1 L689.9,986.3 L690.7,994.3 L691.5,1000.5 L692.3,992.6 L693.1,983.3 L693.9,983.1 L694.7,983.3 L695.5,985.3 L696.3,992.6 L697.1,1000.3 L697.9,990.3 L698.7,983.1 L699.6,981.6 L700.4,982.6 L701.2,985.5 L702.0,993.3 L702.8,1000.0 L703.6,989.8 L704.4,983.3 L705.2,982.7 L706.0,982.1 L706.8,985.3 L707.6,991.3 L708.4,999.4 L709.3,989.8 L710.1,981.9 L710.9,981.6 L711.7,983.6 L712.5,985.5 L713.3,992.3 L714.1,998.8 L714.9,988.6 L715.7,981.3 L716.5,982.8 L717.3,981.0 L718.1,984.0 L719.0,992.6 L719.8,999.4 L720.6,991.8 L721.4,986.0 L722.2,981.6 L723.0,981.1 L723.8,985.1 L724.6,991.6 L725.4,999.8 L726.2,991.1 L727.0,986.1 L727.8,987.5 L728.7,986.7 L729.5,989.2 L730.3,994.6 L731.1,999.8 L731.9,994.3 L732.7,988.9 L733.5,988.3 L734.3,989.4 L735.1,986.7 L735.9,992.8 L736.7,998.8 L737.5,991.3 L738.4,985.8 L739.2,983.7 L740.0,985.5 L740.8,986.7 L741.6,992.6 L742.4,996.1 L743.2,991.1 L744.0,985.8 L744.8,984.3 L745.6,986.3 L746.4,987.8 L747.2,992.6 L748.1,996.8 L748.9,991.1 L749.7,985.3 L750.5,981.0 L751.3,984.7 L752.1,985.6 L752.9,991.3 L753.7,994.6 L754.5,985.8 L755.3,983.6 L756.1,982.9 L756.9,983.2 L757.7,984.8 L758.6,989.8 L759.4,991.7 L760.2,985.1 L761.0,983.0 L761.8,982.5 L762.6,985.0 L763.4,985.5 L764.2,988.6 L765.0,991.3 L765.8,984.7 L766.6,982.0 L767.4,985.1 L768.3,986.1 L769.1,988.3 L769.9,992.3 L770.7,996.7 L771.5,991.1 L772.3,985.1 L773.1,983.5 L773.9,980.6 L774.7,981.5 L775.5,991.2 L776.3,994.9 L777.1,985.7 L778.0,983.0 L778.8,986.5 L779.6,986.8 L780.4,987.5 L781.2,992.7 L782.0,997.9 L782.8,993.3 L783.6,988.4 L784.4,985.8 L785.2,983.5 L786.0,986.9 L786.8,993.3 L787.7,997.2 L788.5,990.9 L789.3,986.1 L790.1,985.7 L790.9,985.8 L791.7,988.6 L792.5,993.3 L793.3,997.6 L794.1,990.3 L794.9,983.5 L795.7,980.9 L796.5,985.4 L797.4,986.4 L798.2,992.4 L799.0,997.5 L799.8,989.4 L800.6,985.2 L801.4,984.7 L802.2,984.3 L803.0,984.3 L803.8,993.0 L804.6,996.9 L805.4,988.4 L806.2,981.8 L807.1,982.9 L807.9,985.5 L808.7,986.8 L809.5,993.3 L810.3,997.6 L811.1,990.3 L811.9,985.5 L811.9,1011.6 Z" fill="#e6f2f9"/><polyline points="516.9,993.2 517.7,987.3 518.5,987.8 519.3,989.0 520.1,992.7 520.9,998.6 521.7,1002.9 522.6,992.7 523.4,987.3 524.2,988.1 525.0,988.1 525.8,989.7 526.6,996.9 527.4,1001.9 528.2,992.7 529.0,986.8 529.8,985.7 530.6,987.0 531.4,988.5 532.3,996.4 533.1,1002.5 533.9,992.4 534.7,986.1 535.5,986.8 536.3,987.6 537.1,988.8 537.9,995.9 538.7,1001.4 539.5,990.8 540.3,984.3 541.1,985.7 542.0,985.8 542.8,987.0 543.6,995.3 544.4,1001.4 545.2,991.0 546.0,985.4 546.8,985.6 547.6,985.8 548.4,987.3 549.2,996.4 550.0,1002.0 550.8,993.7 551.7,985.7 552.5,988.1 553.3,992.9 554.1,991.0 554.9,996.4 555.7,1002.3 556.5,990.0 557.3,985.1 558.1,982.5 558.9,984.6 559.7,986.8 560.5,996.1 561.4,1001.9 562.2,992.1 563.0,984.8 563.8,986.1 564.6,985.0 565.4,988.6 566.2,996.8 567.0,1002.4 567.8,994.3 568.6,988.3 569.4,986.1 570.2,986.5 571.1,989.3 571.9,996.8 572.7,1001.9 573.5,992.8 574.3,987.0 575.1,986.6 575.9,987.6 576.7,988.0 577.5,994.3 578.3,1002.0 579.1,991.1 579.9,984.2 580.7,985.6 581.6,985.2 582.4,987.6 583.2,995.8 584.0,1001.9 584.8,991.1 585.6,984.5 586.4,985.3 587.2,987.7 588.0,988.9 588.8,996.8 589.6,1001.3 590.4,993.8 591.3,986.1 592.1,989.7 592.9,986.1 593.7,988.2 594.5,995.1 595.3,1001.7 596.1,993.6 596.9,990.2 597.7,986.5 598.5,986.5 599.3,987.8 600.1,995.3 601.0,1001.8 601.8,992.6 602.6,987.2 603.4,986.8 604.2,986.8 605.0,989.3 605.8,996.1 606.6,1002.4 607.4,994.3 608.2,986.8 609.0,987.7 609.8,987.0 610.7,990.8 611.5,997.8 612.3,1003.4 613.1,997.8 613.9,990.7 614.7,988.9 615.5,989.4 616.3,992.3 617.1,997.1 617.9,1002.4 618.7,992.8 619.5,986.3 620.4,986.8 621.2,986.5 622.0,989.4 622.8,997.3 623.6,1002.5 624.4,995.1 625.2,987.5 626.0,987.1 626.8,986.2 627.6,987.8 628.4,995.8 629.2,1001.9 630.1,993.1 630.9,986.3 631.7,987.0 632.5,987.7 633.3,989.4 634.1,995.3 634.9,1001.5 635.7,993.8 636.5,986.7 637.3,987.8 638.1,989.8 638.9,993.6 639.7,998.3 640.6,1002.7 641.4,994.8 642.2,988.0 643.0,988.8 643.8,989.3 644.6,991.3 645.4,996.8 646.2,1002.5 647.0,994.1 647.8,988.2 648.6,988.1 649.4,989.1 650.3,989.2 651.1,997.1 651.9,1002.2 652.7,993.8 653.5,987.5 654.3,988.7 655.1,989.9 655.9,993.3 656.7,998.3 657.5,1003.3 658.3,997.3 659.1,995.7 660.0,1002.0 660.8,999.3 661.6,996.7 662.4,999.7 663.2,1003.2 664.0,998.3 664.8,996.7 665.6,1002.9 666.4,997.1 667.2,992.2 668.0,996.8 668.8,1001.4 669.7,994.3 670.5,988.0 671.3,987.5 672.1,986.8 672.9,988.6 673.7,994.6 674.5,1000.8 675.3,992.6 676.1,985.0 676.9,986.1 677.7,985.5 678.5,987.5 679.4,993.6 680.2,1000.7 681.0,991.8 681.8,985.2 682.6,985.2 683.4,986.5 684.2,988.8 685.0,994.3 685.8,1001.4 686.6,992.8 687.4,985.3 688.2,985.1 689.1,985.1 689.9,986.3 690.7,994.3 691.5,1000.5 692.3,992.6 693.1,983.3 693.9,983.1 694.7,983.3 695.5,985.3 696.3,992.6 697.1,1000.3 697.9,990.3 698.7,983.1 699.6,981.6 700.4,982.6 701.2,985.5 702.0,993.3 702.8,1000.0 703.6,989.8 704.4,983.3 705.2,982.7 706.0,982.1 706.8,985.3 707.6,991.3 708.4,999.4 709.3,989.8 710.1,981.9 710.9,981.6 711.7,983.6 712.5,985.5 713.3,992.3 714.1,998.8 714.9,988.6 715.7,981.3 716.5,982.8 717.3,981.0 718.1,984.0 719.0,992.6 719.8,999.4 720.6,991.8 721.4,986.0 722.2,981.6 723.0,981.1 723.8,985.1 724.6,991.6 725.4,999.8 726.2,991.1 727.0,986.1 727.8,987.5 728.7,986.7 729.5,989.2 730.3,994.6 731.1,999.8 731.9,994.3 732.7,988.9 733.5,988.3 734.3,989.4 735.1,986.7 735.9,992.8 736.7,998.8 737.5,991.3 738.4,985.8 739.2,983.7 740.0,985.5 740.8,986.7 741.6,992.6 742.4,996.1 743.2,991.1 744.0,985.8 744.8,984.3 745.6,986.3 746.4,987.8 747.2,992.6 748.1,996.8 748.9,991.1 749.7,985.3 750.5,981.0 751.3,984.7 752.1,985.6 752.9,991.3 753.7,994.6 754.5,985.8 755.3,983.6 756.1,982.9 756.9,983.2 757.7,984.8 758.6,989.8 759.4,991.7 760.2,985.1 761.0,983.0 761.8,982.5 762.6,985.0 763.4,985.5 764.2,988.6 765.0,991.3 765.8,984.7 766.6,982.0 767.4,985.1 768.3,986.1 769.1,988.3 769.9,992.3 770.7,996.7 771.5,991.1 772.3,985.1 773.1,983.5 773.9,980.6 774.7,981.5 775.5,991.2 776.3,994.9 777.1,985.7 778.0,983.0 778.8,986.5 779.6,986.8 780.4,987.5 781.2,992.7 782.0,997.9 782.8,993.3 783.6,988.4 784.4,985.8 785.2,983.5 786.0,986.9 786.8,993.3 787.7,997.2 788.5,990.9 789.3,986.1 790.1,985.7 790.9,985.8 791.7,988.6 792.5,993.3 793.3,997.6 794.1,990.3 794.9,983.5 795.7,980.9 796.5,985.4 797.4,986.4 798.2,992.4 799.0,997.5 799.8,989.4 800.6,985.2 801.4,984.7 802.2,984.3 803.0,984.3 803.8,993.0 804.6,996.9 805.4,988.4 806.2,981.8 807.1,982.9 807.9,985.5 808.7,986.8 809.5,993.3 810.3,997.6 811.1,990.3 811.9,985.5" fill="none" stroke="#058dc7" stroke-width="2.8"/></svg>
<div class="t" id="k68" style="left:845.7px;top:898.4px;font-size:22px;color:#222;transform-origin:0 50%;transform:scaleX(1.0291);">Users</div>
<div class="t" id="k69" style="left:844.8px;top:934.1px;font-size:41px;color:#222;transform-origin:0 50%;transform:scaleX(1.0090);">1,393,724</div>
<div style="position:absolute;left:1162.5px;top:896.0px;width:2.0px;height:132.3px;background:#c9c9c9;"></div>
<svg style="position:absolute;left:0;top:0" width="3000" height="1803"><path d="M851.2,1011.6 L851.2,993.5 L852.0,987.7 L852.8,988.1 L853.6,989.4 L854.4,992.9 L855.2,998.8 L856.0,1003.0 L856.9,992.9 L857.7,987.7 L858.5,988.5 L859.3,988.5 L860.1,990.0 L860.9,997.2 L861.7,1002.0 L862.5,992.9 L863.3,987.1 L864.1,986.1 L864.9,987.4 L865.7,988.8 L866.6,996.6 L867.4,1002.6 L868.2,992.7 L869.0,986.5 L869.8,987.1 L870.6,987.9 L871.4,989.1 L872.2,996.1 L873.0,1001.5 L873.8,991.1 L874.6,984.7 L875.4,986.1 L876.3,986.2 L877.1,987.4 L877.9,995.6 L878.7,1001.5 L879.5,991.4 L880.3,985.8 L881.1,986.0 L881.9,986.2 L882.7,987.7 L883.5,996.6 L884.3,1002.2 L885.1,994.0 L886.0,986.1 L886.8,988.4 L887.6,993.2 L888.4,991.4 L889.2,996.6 L890.0,1002.5 L890.8,990.3 L891.6,985.5 L892.4,982.9 L893.2,985.0 L894.0,987.1 L894.8,996.4 L895.7,1002.0 L896.5,992.4 L897.3,985.2 L898.1,986.5 L898.9,985.4 L899.7,988.9 L900.5,997.0 L901.3,1002.5 L902.1,994.6 L902.9,988.7 L903.7,986.5 L904.5,986.8 L905.4,989.7 L906.2,997.0 L907.0,1002.1 L907.8,993.1 L908.6,987.3 L909.4,987.0 L910.2,987.9 L911.0,988.3 L911.8,994.6 L912.6,1002.2 L913.4,991.4 L914.2,984.6 L915.0,986.0 L915.9,985.6 L916.7,987.9 L917.5,996.0 L918.3,1002.1 L919.1,991.4 L919.9,984.9 L920.7,985.7 L921.5,988.1 L922.3,989.3 L923.1,997.0 L923.9,1001.4 L924.7,994.1 L925.6,986.5 L926.4,990.0 L927.2,986.5 L928.0,988.6 L928.8,995.3 L929.6,1001.8 L930.4,993.8 L931.2,990.5 L932.0,986.8 L932.8,986.8 L933.6,988.2 L934.4,995.5 L935.3,1001.9 L936.1,992.8 L936.9,987.6 L937.7,987.2 L938.5,987.2 L939.3,989.7 L940.1,996.3 L940.9,1002.5 L941.7,994.6 L942.5,987.2 L943.3,988.1 L944.1,987.3 L945.0,991.1 L945.8,998.0 L946.6,1003.5 L947.4,998.0 L948.2,991.0 L949.0,989.3 L949.8,989.8 L950.6,992.6 L951.4,997.3 L952.2,1002.5 L953.0,993.1 L953.8,986.7 L954.7,987.2 L955.5,986.8 L956.3,989.8 L957.1,997.5 L957.9,1002.7 L958.7,995.3 L959.5,987.8 L960.3,987.4 L961.1,986.6 L961.9,988.2 L962.7,996.0 L963.5,1002.1 L964.4,993.3 L965.2,986.7 L966.0,987.3 L966.8,988.1 L967.6,989.8 L968.4,995.5 L969.2,1001.7 L970.0,994.1 L970.8,987.1 L971.6,988.2 L972.4,990.1 L973.2,993.8 L974.0,998.5 L974.9,1002.8 L975.7,995.1 L976.5,988.3 L977.3,989.2 L978.1,989.7 L978.9,991.6 L979.7,997.0 L980.5,1002.7 L981.3,994.3 L982.1,988.6 L982.9,988.4 L983.7,989.4 L984.6,989.5 L985.4,997.3 L986.2,1002.3 L987.0,994.1 L987.8,987.8 L988.6,989.0 L989.4,990.3 L990.2,993.6 L991.0,998.5 L991.8,1003.4 L992.6,997.5 L993.4,995.9 L994.3,1002.2 L995.1,999.5 L995.9,996.9 L996.7,999.8 L997.5,1003.3 L998.3,998.5 L999.1,996.9 L999.9,1003.0 L1000.7,997.3 L1001.5,992.5 L1002.3,997.0 L1003.1,1001.6 L1004.0,994.6 L1004.8,988.3 L1005.6,987.8 L1006.4,987.2 L1007.2,988.9 L1008.0,994.8 L1008.8,1001.0 L1009.6,992.8 L1010.4,985.4 L1011.2,986.5 L1012.0,985.9 L1012.8,987.8 L1013.7,993.8 L1014.5,1000.8 L1015.3,992.1 L1016.1,985.6 L1016.9,985.6 L1017.7,986.8 L1018.5,989.2 L1019.3,994.6 L1020.1,1001.6 L1020.9,993.1 L1021.7,985.7 L1022.5,985.5 L1023.4,985.5 L1024.2,986.7 L1025.0,994.6 L1025.8,1000.7 L1026.6,992.8 L1027.4,983.8 L1028.2,983.5 L1029.0,983.8 L1029.8,985.7 L1030.6,992.8 L1031.4,1000.5 L1032.2,990.6 L1033.0,983.5 L1033.9,982.0 L1034.7,983.0 L1035.5,985.9 L1036.3,993.6 L1037.1,1000.2 L1037.9,990.1 L1038.7,983.8 L1039.5,983.2 L1040.3,982.6 L1041.1,985.7 L1041.9,991.6 L1042.7,999.6 L1043.6,990.1 L1044.4,982.3 L1045.2,982.1 L1046.0,984.0 L1046.8,985.9 L1047.6,992.6 L1048.4,999.0 L1049.2,988.9 L1050.0,981.8 L1050.8,983.3 L1051.6,981.4 L1052.4,984.4 L1053.3,992.8 L1054.1,999.6 L1054.9,992.1 L1055.7,986.3 L1056.5,982.0 L1057.3,981.6 L1058.1,985.5 L1058.9,991.9 L1059.7,1000.0 L1060.5,991.4 L1061.3,986.5 L1062.1,987.8 L1063.0,987.1 L1063.8,989.5 L1064.6,994.8 L1065.4,1000.0 L1066.2,994.6 L1067.0,989.3 L1067.8,988.6 L1068.6,989.8 L1069.4,987.1 L1070.2,993.1 L1071.0,999.0 L1071.8,991.6 L1072.7,986.2 L1073.5,984.1 L1074.3,985.9 L1075.1,987.1 L1075.9,992.8 L1076.7,996.3 L1077.5,991.4 L1078.3,986.2 L1079.1,984.7 L1079.9,986.7 L1080.7,988.2 L1081.5,992.8 L1082.4,997.0 L1083.2,991.4 L1084.0,985.7 L1084.8,981.4 L1085.6,985.1 L1086.4,986.0 L1087.2,991.6 L1088.0,994.8 L1088.8,986.2 L1089.6,984.0 L1090.4,983.3 L1091.2,983.6 L1092.0,985.2 L1092.9,990.1 L1093.7,992.0 L1094.5,985.5 L1095.3,983.4 L1096.1,982.9 L1096.9,985.4 L1097.7,985.9 L1098.5,988.9 L1099.3,991.6 L1100.1,985.1 L1100.9,982.4 L1101.7,985.5 L1102.6,986.5 L1103.4,988.7 L1104.2,992.6 L1105.0,996.9 L1105.8,991.4 L1106.6,985.5 L1107.4,983.9 L1108.2,981.1 L1109.0,981.9 L1109.8,991.5 L1110.6,995.2 L1111.4,986.1 L1112.3,983.4 L1113.1,986.9 L1113.9,987.1 L1114.7,987.9 L1115.5,993.0 L1116.3,998.2 L1117.1,993.6 L1117.9,988.8 L1118.7,986.2 L1119.5,984.0 L1120.3,987.3 L1121.1,993.6 L1122.0,997.4 L1122.8,991.2 L1123.6,986.5 L1124.4,986.1 L1125.2,986.2 L1126.0,988.9 L1126.8,993.6 L1127.6,997.9 L1128.4,990.6 L1129.2,984.0 L1130.0,981.4 L1130.8,985.8 L1131.7,986.8 L1132.5,992.7 L1133.3,997.7 L1134.1,989.7 L1134.9,985.6 L1135.7,985.1 L1136.5,984.7 L1137.3,984.7 L1138.1,993.3 L1138.9,997.1 L1139.7,988.8 L1140.5,982.2 L1141.4,983.3 L1142.2,985.9 L1143.0,987.1 L1143.8,993.6 L1144.6,997.9 L1145.4,990.6 L1146.2,985.9 L1146.2,1011.6 Z" fill="#e6f2f9"/><polyline points="851.2,993.5 852.0,987.7 852.8,988.1 853.6,989.4 854.4,992.9 855.2,998.8 856.0,1003.0 856.9,992.9 857.7,987.7 858.5,988.5 859.3,988.5 860.1,990.0 860.9,997.2 861.7,1002.0 862.5,992.9 863.3,987.1 864.1,986.1 864.9,987.4 865.7,988.8 866.6,996.6 867.4,1002.6 868.2,992.7 869.0,986.5 869.8,987.1 870.6,987.9 871.4,989.1 872.2,996.1 873.0,1001.5 873.8,991.1 874.6,984.7 875.4,986.1 876.3,986.2 877.1,987.4 877.9,995.6 878.7,1001.5 879.5,991.4 880.3,985.8 881.1,986.0 881.9,986.2 882.7,987.7 883.5,996.6 884.3,1002.2 885.1,994.0 886.0,986.1 886.8,988.4 887.6,993.2 888.4,991.4 889.2,996.6 890.0,1002.5 890.8,990.3 891.6,985.5 892.4,982.9 893.2,985.0 894.0,987.1 894.8,996.4 895.7,1002.0 896.5,992.4 897.3,985.2 898.1,986.5 898.9,985.4 899.7,988.9 900.5,997.0 901.3,1002.5 902.1,994.6 902.9,988.7 903.7,986.5 904.5,986.8 905.4,989.7 906.2,997.0 907.0,1002.1 907.8,993.1 908.6,987.3 909.4,987.0 910.2,987.9 911.0,988.3 911.8,994.6 912.6,1002.2 913.4,991.4 914.2,984.6 915.0,986.0 915.9,985.6 916.7,987.9 917.5,996.0 918.3,1002.1 919.1,991.4 919.9,984.9 920.7,985.7 921.5,988.1 922.3,989.3 923.1,997.0 923.9,1001.4 924.7,994.1 925.6,986.5 926.4,990.0 927.2,986.5 928.0,988.6 928.8,995.3 929.6,1001.8 930.4,993.8 931.2,990.5 932.0,986.8 932.8,986.8 933.6,988.2 934.4,995.5 935.3,1001.9 936.1,992.8 936.9,987.6 937.7,987.2 938.5,987.2 939.3,989.7 940.1,996.3 940.9,1002.5 941.7,994.6 942.5,987.2 943.3,988.1 944.1,987.3 945.0,991.1 945.8,998.0 946.6,1003.5 947.4,998.0 948.2,991.0 949.0,989.3 949.8,989.8 950.6,992.6 951.4,997.3 952.2,1002.5 953.0,993.1 953.8,986.7 954.7,987.2 955.5,986.8 956.3,989.8 957.1,997.5 957.9,1002.7 958.7,995.3 959.5,987.8 960.3,987.4 961.1,986.6 961.9,988.2 962.7,996.0 963.5,1002.1 964.4,993.3 965.2,986.7 966.0,987.3 966.8,988.1 967.6,989.8 968.4,995.5 969.2,1001.7 970.0,994.1 970.8,987.1 971.6,988.2 972.4,990.1 973.2,993.8 974.0,998.5 974.9,1002.8 975.7,995.1 976.5,988.3 977.3,989.2 978.1,989.7 978.9,991.6 979.7,997.0 980.5,1002.7 981.3,994.3 982.1,988.6 982.9,988.4 983.7,989.4 984.6,989.5 985.4,997.3 986.2,1002.3 987.0,994.1 987.8,987.8 988.6,989.0 989.4,990.3 990.2,993.6 991.0,998.5 991.8,1003.4 992.6,997.5 993.4,995.9 994.3,1002.2 995.1,999.5 995.9,996.9 996.7,999.8 997.5,1003.3 998.3,998.5 999.1,996.9 999.9,1003.0 1000.7,997.3 1001.5,992.5 1002.3,997.0 1003.1,1001.6 1004.0,994.6 1004.8,988.3 1005.6,987.8 1006.4,987.2 1007.2,988.9 1008.0,994.8 1008.8,1001.0 1009.6,992.8 1010.4,985.4 1011.2,986.5 1012.0,985.9 1012.8,987.8 1013.7,993.8 1014.5,1000.8 1015.3,992.1 1016.1,985.6 1016.9,985.6 1017.7,986.8 1018.5,989.2 1019.3,994.6 1020.1,1001.6 1020.9,993.1 1021.7,985.7 1022.5,985.5 1023.4,985.5 1024.2,986.7 1025.0,994.6 1025.8,1000.7 1026.6,992.8 1027.4,983.8 1028.2,983.5 1029.0,983.8 1029.8,985.7 1030.6,992.8 1031.4,1000.5 1032.2,990.6 1033.0,983.5 1033.9,982.0 1034.7,983.0 1035.5,985.9 1036.3,993.6 1037.1,1000.2 1037.9,990.1 1038.7,983.8 1039.5,983.2 1040.3,982.6 1041.1,985.7 1041.9,991.6 1042.7,999.6 1043.6,990.1 1044.4,982.3 1045.2,982.1 1046.0,984.0 1046.8,985.9 1047.6,992.6 1048.4,999.0 1049.2,988.9 1050.0,981.8 1050.8,983.3 1051.6,981.4 1052.4,984.4 1053.3,992.8 1054.1,999.6 1054.9,992.1 1055.7,986.3 1056.5,982.0 1057.3,981.6 1058.1,985.5 1058.9,991.9 1059.7,1000.0 1060.5,991.4 1061.3,986.5 1062.1,987.8 1063.0,987.1 1063.8,989.5 1064.6,994.8 1065.4,1000.0 1066.2,994.6 1067.0,989.3 1067.8,988.6 1068.6,989.8 1069.4,987.1 1070.2,993.1 1071.0,999.0 1071.8,991.6 1072.7,986.2 1073.5,984.1 1074.3,985.9 1075.1,987.1 1075.9,992.8 1076.7,996.3 1077.5,991.4 1078.3,986.2 1079.1,984.7 1079.9,986.7 1080.7,988.2 1081.5,992.8 1082.4,997.0 1083.2,991.4 1084.0,985.7 1084.8,981.4 1085.6,985.1 1086.4,986.0 1087.2,991.6 1088.0,994.8 1088.8,986.2 1089.6,984.0 1090.4,983.3 1091.2,983.6 1092.0,985.2 1092.9,990.1 1093.7,992.0 1094.5,985.5 1095.3,983.4 1096.1,982.9 1096.9,985.4 1097.7,985.9 1098.5,988.9 1099.3,991.6 1100.1,985.1 1100.9,982.4 1101.7,985.5 1102.6,986.5 1103.4,988.7 1104.2,992.6 1105.0,996.9 1105.8,991.4 1106.6,985.5 1107.4,983.9 1108.2,981.1 1109.0,981.9 1109.8,991.5 1110.6,995.2 1111.4,986.1 1112.3,983.4 1113.1,986.9 1113.9,987.1 1114.7,987.9 1115.5,993.0 1116.3,998.2 1117.1,993.6 1117.9,988.8 1118.7,986.2 1119.5,984.0 1120.3,987.3 1121.1,993.6 1122.0,997.4 1122.8,991.2 1123.6,986.5 1124.4,986.1 1125.2,986.2 1126.0,988.9 1126.8,993.6 1127.6,997.9 1128.4,990.6 1129.2,984.0 1130.0,981.4 1130.8,985.8 1131.7,986.8 1132.5,992.7 1133.3,997.7 1134.1,989.7 1134.9,985.6 1135.7,985.1 1136.5,984.7 1137.3,984.7 1138.1,993.3 1138.9,997.1 1139.7,988.8 1140.5,982.2 1141.4,983.3 1142.2,985.9 1143.0,987.1 1143.8,993.6 1144.6,997.9 1145.4,990.6 1146.2,985.9" fill="none" stroke="#058dc7" stroke-width="2.8"/></svg>
<div class="t" id="k70" style="left:1180.0px;top:898.4px;font-size:22px;color:#222;transform-origin:0 50%;transform:scaleX(1.0365);">Pageviews</div>
<div class="t" id="k71" style="left:1181.1px;top:934.1px;font-size:41px;color:#222;transform-origin:0 50%;transform:scaleX(0.9894);">4,954,831</div>
<div style="position:absolute;left:1496.8px;top:896.0px;width:2.0px;height:132.3px;background:#c9c9c9;"></div>
<svg style="position:absolute;left:0;top:0" width="3000" height="1803"><path d="M1185.5,1011.6 L1185.5,993.4 L1186.3,987.6 L1187.1,988.0 L1187.9,989.3 L1188.7,992.8 L1189.5,998.7 L1190.3,1002.9 L1191.2,992.8 L1192.0,987.5 L1192.8,988.4 L1193.6,988.4 L1194.4,989.9 L1195.2,997.1 L1196.0,1002.0 L1196.8,992.8 L1197.6,987.0 L1198.4,986.0 L1199.2,987.3 L1200.0,988.7 L1200.9,996.6 L1201.7,1002.5 L1202.5,992.6 L1203.3,986.3 L1204.1,987.0 L1204.9,987.8 L1205.7,989.0 L1206.5,996.0 L1207.3,1001.5 L1208.1,991.0 L1208.9,984.6 L1209.7,985.9 L1210.6,986.1 L1211.4,987.3 L1212.2,995.5 L1213.0,1001.5 L1213.8,991.3 L1214.6,985.7 L1215.4,985.9 L1216.2,986.1 L1217.0,987.6 L1217.8,996.6 L1218.6,1002.1 L1219.4,993.9 L1220.3,985.9 L1221.1,988.3 L1221.9,993.1 L1222.7,991.3 L1223.5,996.6 L1224.3,1002.4 L1225.1,990.2 L1225.9,985.4 L1226.7,982.8 L1227.5,984.9 L1228.3,987.0 L1229.1,996.3 L1230.0,1002.0 L1230.8,992.3 L1231.6,985.1 L1232.4,986.3 L1233.2,985.2 L1234.0,988.8 L1234.8,996.9 L1235.6,1002.5 L1236.4,994.5 L1237.2,988.6 L1238.0,986.3 L1238.8,986.7 L1239.7,989.5 L1240.5,996.9 L1241.3,1002.0 L1242.1,993.0 L1242.9,987.2 L1243.7,986.8 L1244.5,987.8 L1245.3,988.2 L1246.1,994.5 L1246.9,1002.1 L1247.7,991.3 L1248.5,984.5 L1249.3,985.8 L1250.2,985.5 L1251.0,987.8 L1251.8,996.0 L1252.6,1002.0 L1253.4,991.3 L1254.2,984.7 L1255.0,985.6 L1255.8,987.9 L1256.6,989.2 L1257.4,996.9 L1258.2,1001.4 L1259.0,994.0 L1259.9,986.3 L1260.7,989.9 L1261.5,986.3 L1262.3,988.4 L1263.1,995.2 L1263.9,1001.8 L1264.7,993.7 L1265.5,990.4 L1266.3,986.7 L1267.1,986.7 L1267.9,988.1 L1268.7,995.5 L1269.6,1001.9 L1270.4,992.8 L1271.2,987.4 L1272.0,987.1 L1272.8,987.1 L1273.6,989.5 L1274.4,996.2 L1275.2,1002.5 L1276.0,994.5 L1276.8,987.1 L1277.6,987.9 L1278.4,987.2 L1279.3,991.0 L1280.1,997.9 L1280.9,1003.5 L1281.7,997.9 L1282.5,990.9 L1283.3,989.2 L1284.1,989.7 L1284.9,992.5 L1285.7,997.2 L1286.5,1002.5 L1287.3,993.0 L1288.1,986.6 L1289.0,987.1 L1289.8,986.7 L1290.6,989.7 L1291.4,997.4 L1292.2,1002.6 L1293.0,995.2 L1293.8,987.7 L1294.6,987.3 L1295.4,986.5 L1296.2,988.1 L1297.0,996.0 L1297.8,1002.0 L1298.7,993.2 L1299.5,986.6 L1300.3,987.2 L1301.1,987.9 L1301.9,989.7 L1302.7,995.5 L1303.5,1001.6 L1304.3,994.0 L1305.1,987.0 L1305.9,988.1 L1306.7,990.0 L1307.5,993.7 L1308.3,998.4 L1309.2,1002.7 L1310.0,995.0 L1310.8,988.2 L1311.6,989.1 L1312.4,989.5 L1313.2,991.5 L1314.0,996.9 L1314.8,1002.6 L1315.6,994.2 L1316.4,988.4 L1317.2,988.3 L1318.0,989.3 L1318.9,989.4 L1319.7,997.2 L1320.5,1002.3 L1321.3,994.0 L1322.1,987.7 L1322.9,988.9 L1323.7,990.2 L1324.5,993.5 L1325.3,998.4 L1326.1,1003.4 L1326.9,997.4 L1327.7,995.8 L1328.6,1002.1 L1329.4,999.4 L1330.2,996.8 L1331.0,999.8 L1331.8,1003.2 L1332.6,998.4 L1333.4,996.8 L1334.2,1003.0 L1335.0,997.2 L1335.8,992.4 L1336.6,996.9 L1337.4,1001.5 L1338.3,994.5 L1339.1,988.2 L1339.9,987.7 L1340.7,987.1 L1341.5,988.8 L1342.3,994.7 L1343.1,1000.9 L1343.9,992.8 L1344.7,985.2 L1345.5,986.3 L1346.3,985.7 L1347.1,987.7 L1348.0,993.7 L1348.8,1000.8 L1349.6,992.0 L1350.4,985.5 L1351.2,985.5 L1352.0,986.7 L1352.8,989.1 L1353.6,994.5 L1354.4,1001.5 L1355.2,993.0 L1356.0,985.6 L1356.8,985.4 L1357.7,985.4 L1358.5,986.6 L1359.3,994.5 L1360.1,1000.7 L1360.9,992.8 L1361.7,983.6 L1362.5,983.4 L1363.3,983.6 L1364.1,985.6 L1364.9,992.8 L1365.7,1000.4 L1366.5,990.5 L1367.3,983.4 L1368.2,981.9 L1369.0,982.9 L1369.8,985.7 L1370.6,993.5 L1371.4,1000.2 L1372.2,990.0 L1373.0,983.6 L1373.8,983.0 L1374.6,982.4 L1375.4,985.6 L1376.2,991.5 L1377.0,999.5 L1377.9,990.0 L1378.7,982.2 L1379.5,981.9 L1380.3,983.9 L1381.1,985.7 L1381.9,992.5 L1382.7,998.9 L1383.5,988.8 L1384.3,981.7 L1385.1,983.1 L1385.9,981.3 L1386.7,984.2 L1387.6,992.8 L1388.4,999.5 L1389.2,992.0 L1390.0,986.2 L1390.8,981.9 L1391.6,981.5 L1392.4,985.4 L1393.2,991.8 L1394.0,999.9 L1394.8,991.3 L1395.6,986.3 L1396.4,987.7 L1397.3,987.0 L1398.1,989.4 L1398.9,994.7 L1399.7,999.9 L1400.5,994.5 L1401.3,989.2 L1402.1,988.5 L1402.9,989.7 L1403.7,987.0 L1404.5,993.0 L1405.3,998.9 L1406.1,991.5 L1407.0,986.1 L1407.8,984.0 L1408.6,985.7 L1409.4,987.0 L1410.2,992.8 L1411.0,996.2 L1411.8,991.3 L1412.6,986.1 L1413.4,984.6 L1414.2,986.6 L1415.0,988.1 L1415.8,992.8 L1416.7,996.9 L1417.5,991.3 L1418.3,985.6 L1419.1,981.3 L1419.9,985.0 L1420.7,985.8 L1421.5,991.5 L1422.3,994.7 L1423.1,986.1 L1423.9,983.9 L1424.7,983.2 L1425.5,983.5 L1426.3,985.1 L1427.2,990.0 L1428.0,991.9 L1428.8,985.4 L1429.6,983.3 L1430.4,982.8 L1431.2,985.2 L1432.0,985.8 L1432.8,988.8 L1433.6,991.5 L1434.4,985.0 L1435.2,982.3 L1436.0,985.4 L1436.9,986.3 L1437.7,988.6 L1438.5,992.5 L1439.3,996.8 L1440.1,991.3 L1440.9,985.4 L1441.7,983.7 L1442.5,980.9 L1443.3,981.8 L1444.1,991.4 L1444.9,995.1 L1445.7,985.9 L1446.6,983.3 L1447.4,986.8 L1448.2,987.0 L1449.0,987.8 L1449.8,992.9 L1450.6,998.1 L1451.4,993.5 L1452.2,988.7 L1453.0,986.1 L1453.8,983.8 L1454.6,987.2 L1455.4,993.5 L1456.3,997.3 L1457.1,991.1 L1457.9,986.4 L1458.7,985.9 L1459.5,986.1 L1460.3,988.8 L1461.1,993.5 L1461.9,997.8 L1462.7,990.5 L1463.5,983.8 L1464.3,981.2 L1465.1,985.6 L1466.0,986.7 L1466.8,992.6 L1467.6,997.6 L1468.4,989.6 L1469.2,985.5 L1470.0,985.0 L1470.8,984.6 L1471.6,984.6 L1472.4,993.2 L1473.2,997.0 L1474.0,988.7 L1474.8,982.0 L1475.7,983.2 L1476.5,985.8 L1477.3,987.0 L1478.1,993.5 L1478.9,997.8 L1479.7,990.5 L1480.5,985.8 L1480.5,1011.6 Z" fill="#e6f2f9"/><polyline points="1185.5,993.4 1186.3,987.6 1187.1,988.0 1187.9,989.3 1188.7,992.8 1189.5,998.7 1190.3,1002.9 1191.2,992.8 1192.0,987.5 1192.8,988.4 1193.6,988.4 1194.4,989.9 1195.2,997.1 1196.0,1002.0 1196.8,992.8 1197.6,987.0 1198.4,986.0 1199.2,987.3 1200.0,988.7 1200.9,996.6 1201.7,1002.5 1202.5,992.6 1203.3,986.3 1204.1,987.0 1204.9,987.8 1205.7,989.0 1206.5,996.0 1207.3,1001.5 1208.1,991.0 1208.9,984.6 1209.7,985.9 1210.6,986.1 1211.4,987.3 1212.2,995.5 1213.0,1001.5 1213.8,991.3 1214.6,985.7 1215.4,985.9 1216.2,986.1 1217.0,987.6 1217.8,996.6 1218.6,1002.1 1219.4,993.9 1220.3,985.9 1221.1,988.3 1221.9,993.1 1222.7,991.3 1223.5,996.6 1224.3,1002.4 1225.1,990.2 1225.9,985.4 1226.7,982.8 1227.5,984.9 1228.3,987.0 1229.1,996.3 1230.0,1002.0 1230.8,992.3 1231.6,985.1 1232.4,986.3 1233.2,985.2 1234.0,988.8 1234.8,996.9 1235.6,1002.5 1236.4,994.5 1237.2,988.6 1238.0,986.3 1238.8,986.7 1239.7,989.5 1240.5,996.9 1241.3,1002.0 1242.1,993.0 1242.9,987.2 1243.7,986.8 1244.5,987.8 1245.3,988.2 1246.1,994.5 1246.9,1002.1 1247.7,991.3 1248.5,984.5 1249.3,985.8 1250.2,985.5 1251.0,987.8 1251.8,996.0 1252.6,1002.0 1253.4,991.3 1254.2,984.7 1255.0,985.6 1255.8,987.9 1256.6,989.2 1257.4,996.9 1258.2,1001.4 1259.0,994.0 1259.9,986.3 1260.7,989.9 1261.5,986.3 1262.3,988.4 1263.1,995.2 1263.9,1001.8 1264.7,993.7 1265.5,990.4 1266.3,986.7 1267.1,986.7 1267.9,988.1 1268.7,995.5 1269.6,1001.9 1270.4,992.8 1271.2,987.4 1272.0,987.1 1272.8,987.1 1273.6,989.5 1274.4,996.2 1275.2,1002.5 1276.0,994.5 1276.8,987.1 1277.6,987.9 1278.4,987.2 1279.3,991.0 1280.1,997.9 1280.9,1003.5 1281.7,997.9 1282.5,990.9 1283.3,989.2 1284.1,989.7 1284.9,992.5 1285.7,997.2 1286.5,1002.5 1287.3,993.0 1288.1,986.6 1289.0,987.1 1289.8,986.7 1290.6,989.7 1291.4,997.4 1292.2,1002.6 1293.0,995.2 1293.8,987.7 1294.6,987.3 1295.4,986.5 1296.2,988.1 1297.0,996.0 1297.8,1002.0 1298.7,993.2 1299.5,986.6 1300.3,987.2 1301.1,987.9 1301.9,989.7 1302.7,995.5 1303.5,1001.6 1304.3,994.0 1305.1,987.0 1305.9,988.1 1306.7,990.0 1307.5,993.7 1308.3,998.4 1309.2,1002.7 1310.0,995.0 1310.8,988.2 1311.6,989.1 1312.4,989.5 1313.2,991.5 1314.0,996.9 1314.8,1002.6 1315.6,994.2 1316.4,988.4 1317.2,988.3 1318.0,989.3 1318.9,989.4 1319.7,997.2 1320.5,1002.3 1321.3,994.0 1322.1,987.7 1322.9,988.9 1323.7,990.2 1324.5,993.5 1325.3,998.4 1326.1,1003.4 1326.9,997.4 1327.7,995.8 1328.6,1002.1 1329.4,999.4 1330.2,996.8 1331.0,999.8 1331.8,1003.2 1332.6,998.4 1333.4,996.8 1334.2,1003.0 1335.0,997.2 1335.8,992.4 1336.6,996.9 1337.4,1001.5 1338.3,994.5 1339.1,988.2 1339.9,987.7 1340.7,987.1 1341.5,988.8 1342.3,994.7 1343.1,1000.9 1343.9,992.8 1344.7,985.2 1345.5,986.3 1346.3,985.7 1347.1,987.7 1348.0,993.7 1348.8,1000.8 1349.6,992.0 1350.4,985.5 1351.2,985.5 1352.0,986.7 1352.8,989.1 1353.6,994.5 1354.4,1001.5 1355.2,993.0 1356.0,985.6 1356.8,985.4 1357.7,985.4 1358.5,986.6 1359.3,994.5 1360.1,1000.7 1360.9,992.8 1361.7,983.6 1362.5,983.4 1363.3,983.6 1364.1,985.6 1364.9,992.8 1365.7,1000.4 1366.5,990.5 1367.3,983.4 1368.2,981.9 1369.0,982.9 1369.8,985.7 1370.6,993.5 1371.4,1000.2 1372.2,990.0 1373.0,983.6 1373.8,983.0 1374.6,982.4 1375.4,985.6 1376.2,991.5 1377.0,999.5 1377.9,990.0 1378.7,982.2 1379.5,981.9 1380.3,983.9 1381.1,985.7 1381.9,992.5 1382.7,998.9 1383.5,988.8 1384.3,981.7 1385.1,983.1 1385.9,981.3 1386.7,984.2 1387.6,992.8 1388.4,999.5 1389.2,992.0 1390.0,986.2 1390.8,981.9 1391.6,981.5 1392.4,985.4 1393.2,991.8 1394.0,999.9 1394.8,991.3 1395.6,986.3 1396.4,987.7 1397.3,987.0 1398.1,989.4 1398.9,994.7 1399.7,999.9 1400.5,994.5 1401.3,989.2 1402.1,988.5 1402.9,989.7 1403.7,987.0 1404.5,993.0 1405.3,998.9 1406.1,991.5 1407.0,986.1 1407.8,984.0 1408.6,985.7 1409.4,987.0 1410.2,992.8 1411.0,996.2 1411.8,991.3 1412.6,986.1 1413.4,984.6 1414.2,986.6 1415.0,988.1 1415.8,992.8 1416.7,996.9 1417.5,991.3 1418.3,985.6 1419.1,981.3 1419.9,985.0 1420.7,985.8 1421.5,991.5 1422.3,994.7 1423.1,986.1 1423.9,983.9 1424.7,983.2 1425.5,983.5 1426.3,985.1 1427.2,990.0 1428.0,991.9 1428.8,985.4 1429.6,983.3 1430.4,982.8 1431.2,985.2 1432.0,985.8 1432.8,988.8 1433.6,991.5 1434.4,985.0 1435.2,982.3 1436.0,985.4 1436.9,986.3 1437.7,988.6 1438.5,992.5 1439.3,996.8 1440.1,991.3 1440.9,985.4 1441.7,983.7 1442.5,980.9 1443.3,981.8 1444.1,991.4 1444.9,995.1 1445.7,985.9 1446.6,983.3 1447.4,986.8 1448.2,987.0 1449.0,987.8 1449.8,992.9 1450.6,998.1 1451.4,993.5 1452.2,988.7 1453.0,986.1 1453.8,983.8 1454.6,987.2 1455.4,993.5 1456.3,997.3 1457.1,991.1 1457.9,986.4 1458.7,985.9 1459.5,986.1 1460.3,988.8 1461.1,993.5 1461.9,997.8 1462.7,990.5 1463.5,983.8 1464.3,981.2 1465.1,985.6 1466.0,986.7 1466.8,992.6 1467.6,997.6 1468.4,989.6 1469.2,985.5 1470.0,985.0 1470.8,984.6 1471.6,984.6 1472.4,993.2 1473.2,997.0 1474.0,988.7 1474.8,982.0 1475.7,983.2 1476.5,985.8 1477.3,987.0 1478.1,993.5 1478.9,997.8 1479.7,990.5 1480.5,985.8" fill="none" stroke="#058dc7" stroke-width="2.8"/></svg>
<div class="t" id="k72" style="left:1515.0px;top:898.4px;font-size:22px;color:#222;transform-origin:0 50%;transform:scaleX(1.0391);">Pages / Session</div>
<div class="t" id="k73" style="left:1514.0px;top:934.1px;font-size:41px;color:#222;transform-origin:0 50%;transform:scaleX(1.0560);">2.22</div>
<div style="position:absolute;left:1831.1px;top:896.0px;width:2.0px;height:132.3px;background:#c9c9c9;"></div>
<svg style="position:absolute;left:0;top:0" width="3000" height="1803"><path d="M1519.8000000000002,1011.6 L1519.8,982.5 L1520.6,982.8 L1521.4,982.8 L1522.2,983.1 L1523.0,983.4 L1523.8,983.2 L1524.6,983.1 L1525.5,981.8 L1526.3,982.7 L1527.1,982.4 L1527.9,983.1 L1528.7,983.0 L1529.5,983.4 L1530.3,983.1 L1531.1,984.1 L1531.9,983.9 L1532.7,983.7 L1533.5,984.4 L1534.3,983.9 L1535.2,983.6 L1536.0,983.7 L1536.8,984.0 L1537.6,984.1 L1538.4,982.7 L1539.2,983.8 L1540.0,983.5 L1540.8,984.4 L1541.6,983.7 L1542.4,984.2 L1543.2,984.7 L1544.0,984.1 L1544.9,983.3 L1545.7,984.7 L1546.5,984.2 L1547.3,983.8 L1548.1,983.5 L1548.9,983.1 L1549.7,983.2 L1550.5,983.0 L1551.3,983.8 L1552.1,983.7 L1552.9,983.4 L1553.7,984.0 L1554.6,983.7 L1555.4,983.3 L1556.2,984.5 L1557.0,983.9 L1557.8,984.2 L1558.6,984.4 L1559.4,984.5 L1560.2,984.9 L1561.0,984.5 L1561.8,984.5 L1562.6,984.1 L1563.4,984.6 L1564.3,984.0 L1565.1,984.3 L1565.9,983.9 L1566.7,983.6 L1567.5,983.4 L1568.3,984.6 L1569.1,983.7 L1569.9,983.9 L1570.7,983.4 L1571.5,983.7 L1572.3,984.1 L1573.1,984.0 L1574.0,983.5 L1574.8,983.8 L1575.6,984.1 L1576.4,983.3 L1577.2,983.5 L1578.0,983.5 L1578.8,983.3 L1579.6,983.9 L1580.4,983.8 L1581.2,983.6 L1582.0,983.7 L1582.8,984.1 L1583.6,985.7 L1584.5,985.8 L1585.3,984.1 L1586.1,984.8 L1586.9,984.3 L1587.7,984.8 L1588.5,984.8 L1589.3,983.4 L1590.1,983.5 L1590.9,984.3 L1591.7,983.6 L1592.5,983.4 L1593.3,983.9 L1594.2,983.1 L1595.0,983.6 L1595.8,983.6 L1596.6,983.7 L1597.4,983.8 L1598.2,984.0 L1599.0,983.9 L1599.8,984.6 L1600.6,984.8 L1601.4,983.6 L1602.2,984.4 L1603.0,985.0 L1603.9,985.6 L1604.7,984.7 L1605.5,984.4 L1606.3,984.2 L1607.1,984.4 L1607.9,983.7 L1608.7,984.0 L1609.5,984.2 L1610.3,984.5 L1611.1,984.1 L1611.9,984.0 L1612.7,984.5 L1613.6,984.3 L1614.4,984.8 L1615.2,984.5 L1616.0,984.4 L1616.8,984.9 L1617.6,985.0 L1618.4,984.8 L1619.2,985.3 L1620.0,984.3 L1620.8,985.3 L1621.6,985.1 L1622.4,984.5 L1623.3,985.1 L1624.1,984.7 L1624.9,984.4 L1625.7,985.4 L1626.5,984.6 L1627.3,984.9 L1628.1,984.0 L1628.9,985.0 L1629.7,984.7 L1630.5,984.1 L1631.3,984.2 L1632.1,984.7 L1633.0,984.8 L1633.8,984.8 L1634.6,985.0 L1635.4,984.6 L1636.2,984.9 L1637.0,985.1 L1637.8,984.9 L1638.6,984.1 L1639.4,984.8 L1640.2,984.2 L1641.0,984.1 L1641.8,984.4 L1642.6,984.3 L1643.5,984.8 L1644.3,984.3 L1645.1,985.2 L1645.9,985.0 L1646.7,985.4 L1647.5,985.1 L1648.3,985.1 L1649.1,984.1 L1649.9,984.6 L1650.7,984.3 L1651.5,984.4 L1652.3,985.3 L1653.2,983.9 L1654.0,983.6 L1654.8,984.6 L1655.6,984.6 L1656.4,984.7 L1657.2,984.7 L1658.0,984.7 L1658.8,985.2 L1659.6,984.8 L1660.4,985.3 L1661.2,985.0 L1662.0,985.3 L1662.9,984.9 L1663.7,985.1 L1664.5,985.0 L1665.3,984.9 L1666.1,984.8 L1666.9,984.7 L1667.7,984.9 L1668.5,984.9 L1669.3,984.7 L1670.1,984.4 L1670.9,984.3 L1671.7,985.2 L1672.6,984.8 L1673.4,985.7 L1674.2,985.6 L1675.0,985.0 L1675.8,985.1 L1676.6,984.7 L1677.4,985.4 L1678.2,984.5 L1679.0,985.4 L1679.8,985.1 L1680.6,985.4 L1681.4,985.9 L1682.3,984.1 L1683.1,984.8 L1683.9,984.7 L1684.7,985.5 L1685.5,985.0 L1686.3,985.1 L1687.1,984.5 L1687.9,985.1 L1688.7,984.6 L1689.5,985.3 L1690.3,985.5 L1691.1,986.6 L1692.0,986.0 L1692.8,985.6 L1693.6,985.3 L1694.4,986.2 L1695.2,985.2 L1696.0,985.4 L1696.8,985.6 L1697.6,985.6 L1698.4,985.1 L1699.2,985.3 L1700.0,985.3 L1700.8,986.1 L1701.6,985.5 L1702.5,985.1 L1703.3,985.5 L1704.1,983.8 L1704.9,985.5 L1705.7,984.8 L1706.5,985.3 L1707.3,985.6 L1708.1,986.0 L1708.9,985.5 L1709.7,986.0 L1710.5,985.8 L1711.3,985.9 L1712.2,986.0 L1713.0,985.4 L1713.8,985.2 L1714.6,985.1 L1715.4,986.0 L1716.2,985.6 L1717.0,985.7 L1717.8,984.9 L1718.6,985.8 L1719.4,984.8 L1720.2,985.6 L1721.0,985.7 L1721.9,985.0 L1722.7,985.7 L1723.5,985.1 L1724.3,985.8 L1725.1,986.2 L1725.9,985.4 L1726.7,986.7 L1727.5,984.6 L1728.3,985.4 L1729.1,986.2 L1729.9,985.3 L1730.7,985.4 L1731.6,985.9 L1732.4,986.3 L1733.2,985.4 L1734.0,985.0 L1734.8,985.9 L1735.6,986.6 L1736.4,986.5 L1737.2,986.0 L1738.0,986.1 L1738.8,986.9 L1739.6,986.0 L1740.4,986.9 L1741.3,988.4 L1742.1,986.0 L1742.9,985.1 L1743.7,986.8 L1744.5,986.0 L1745.3,986.1 L1746.1,986.6 L1746.9,986.2 L1747.7,986.2 L1748.5,986.1 L1749.3,986.0 L1750.1,986.1 L1751.0,985.6 L1751.8,986.5 L1752.6,985.4 L1753.4,984.2 L1754.2,986.2 L1755.0,985.9 L1755.8,986.6 L1756.6,984.5 L1757.4,986.2 L1758.2,986.8 L1759.0,986.8 L1759.8,987.7 L1760.6,986.5 L1761.5,986.4 L1762.3,986.2 L1763.1,985.7 L1763.9,985.8 L1764.7,985.5 L1765.5,986.4 L1766.3,985.9 L1767.1,986.1 L1767.9,985.5 L1768.7,986.0 L1769.5,985.4 L1770.3,985.6 L1771.2,985.7 L1772.0,987.2 L1772.8,984.8 L1773.6,985.7 L1774.4,986.5 L1775.2,986.1 L1776.0,986.2 L1776.8,986.8 L1777.6,986.5 L1778.4,986.8 L1779.2,986.3 L1780.0,987.3 L1780.9,987.0 L1781.7,987.2 L1782.5,987.7 L1783.3,986.6 L1784.1,986.7 L1784.9,986.5 L1785.7,986.6 L1786.5,986.9 L1787.3,986.7 L1788.1,986.1 L1788.9,986.8 L1789.7,986.3 L1790.6,986.4 L1791.4,987.0 L1792.2,986.8 L1793.0,986.6 L1793.8,986.3 L1794.6,986.0 L1795.4,986.7 L1796.2,986.1 L1797.0,987.2 L1797.8,986.8 L1798.6,987.0 L1799.4,986.9 L1800.3,987.5 L1801.1,987.0 L1801.9,987.4 L1802.7,986.9 L1803.5,986.8 L1804.3,987.1 L1805.1,986.1 L1805.9,986.5 L1806.7,986.4 L1807.5,986.8 L1808.3,986.1 L1809.1,987.8 L1810.0,986.2 L1810.8,986.4 L1811.6,987.0 L1812.4,986.5 L1813.2,986.2 L1814.0,986.0 L1814.8,986.7 L1814.8000000000002,1011.6 Z" fill="#e6f2f9"/><polyline points="1519.8,982.5 1520.6,982.8 1521.4,982.8 1522.2,983.1 1523.0,983.4 1523.8,983.2 1524.6,983.1 1525.5,981.8 1526.3,982.7 1527.1,982.4 1527.9,983.1 1528.7,983.0 1529.5,983.4 1530.3,983.1 1531.1,984.1 1531.9,983.9 1532.7,983.7 1533.5,984.4 1534.3,983.9 1535.2,983.6 1536.0,983.7 1536.8,984.0 1537.6,984.1 1538.4,982.7 1539.2,983.8 1540.0,983.5 1540.8,984.4 1541.6,983.7 1542.4,984.2 1543.2,984.7 1544.0,984.1 1544.9,983.3 1545.7,984.7 1546.5,984.2 1547.3,983.8 1548.1,983.5 1548.9,983.1 1549.7,983.2 1550.5,983.0 1551.3,983.8 1552.1,983.7 1552.9,983.4 1553.7,984.0 1554.6,983.7 1555.4,983.3 1556.2,984.5 1557.0,983.9 1557.8,984.2 1558.6,984.4 1559.4,984.5 1560.2,984.9 1561.0,984.5 1561.8,984.5 1562.6,984.1 1563.4,984.6 1564.3,984.0 1565.1,984.3 1565.9,983.9 1566.7,983.6 1567.5,983.4 1568.3,984.6 1569.1,983.7 1569.9,983.9 1570.7,983.4 1571.5,983.7 1572.3,984.1 1573.1,984.0 1574.0,983.5 1574.8,983.8 1575.6,984.1 1576.4,983.3 1577.2,983.5 1578.0,983.5 1578.8,983.3 1579.6,983.9 1580.4,983.8 1581.2,983.6 1582.0,983.7 1582.8,984.1 1583.6,985.7 1584.5,985.8 1585.3,984.1 1586.1,984.8 1586.9,984.3 1587.7,984.8 1588.5,984.8 1589.3,983.4 1590.1,983.5 1590.9,984.3 1591.7,983.6 1592.5,983.4 1593.3,983.9 1594.2,983.1 1595.0,983.6 1595.8,983.6 1596.6,983.7 1597.4,983.8 1598.2,984.0 1599.0,983.9 1599.8,984.6 1600.6,984.8 1601.4,983.6 1602.2,984.4 1603.0,985.0 1603.9,985.6 1604.7,984.7 1605.5,984.4 1606.3,984.2 1607.1,984.4 1607.9,983.7 1608.7,984.0 1609.5,984.2 1610.3,984.5 1611.1,984.1 1611.9,984.0 1612.7,984.5 1613.6,984.3 1614.4,984.8 1615.2,984.5 1616.0,984.4 1616.8,984.9 1617.6,985.0 1618.4,984.8 1619.2,985.3 1620.0,984.3 1620.8,985.3 1621.6,985.1 1622.4,984.5 1623.3,985.1 1624.1,984.7 1624.9,984.4 1625.7,985.4 1626.5,984.6 1627.3,984.9 1628.1,984.0 1628.9,985.0 1629.7,984.7 1630.5,984.1 1631.3,984.2 1632.1,984.7 1633.0,984.8 1633.8,984.8 1634.6,985.0 1635.4,984.6 1636.2,984.9 1637.0,985.1 1637.8,984.9 1638.6,984.1 1639.4,984.8 1640.2,984.2 1641.0,984.1 1641.8,984.4 1642.6,984.3 1643.5,984.8 1644.3,984.3 1645.1,985.2 1645.9,985.0 1646.7,985.4 1647.5,985.1 1648.3,985.1 1649.1,984.1 1649.9,984.6 1650.7,984.3 1651.5,984.4 1652.3,985.3 1653.2,983.9 1654.0,983.6 1654.8,984.6 1655.6,984.6 1656.4,984.7 1657.2,984.7 1658.0,984.7 1658.8,985.2 1659.6,984.8 1660.4,985.3 1661.2,985.0 1662.0,985.3 1662.9,984.9 1663.7,985.1 1664.5,985.0 1665.3,984.9 1666.1,984.8 1666.9,984.7 1667.7,984.9 1668.5,984.9 1669.3,984.7 1670.1,984.4 1670.9,984.3 1671.7,985.2 1672.6,984.8 1673.4,985.7 1674.2,985.6 1675.0,985.0 1675.8,985.1 1676.6,984.7 1677.4,985.4 1678.2,984.5 1679.0,985.4 1679.8,985.1 1680.6,985.4 1681.4,985.9 1682.3,984.1 1683.1,984.8 1683.9,984.7 1684.7,985.5 1685.5,985.0 1686.3,985.1 1687.1,984.5 1687.9,985.1 1688.7,984.6 1689.5,985.3 1690.3,985.5 1691.1,986.6 1692.0,986.0 1692.8,985.6 1693.6,985.3 1694.4,986.2 1695.2,985.2 1696.0,985.4 1696.8,985.6 1697.6,985.6 1698.4,985.1 1699.2,985.3 1700.0,985.3 1700.8,986.1 1701.6,985.5 1702.5,985.1 1703.3,985.5 1704.1,983.8 1704.9,985.5 1705.7,984.8 1706.5,985.3 1707.3,985.6 1708.1,986.0 1708.9,985.5 1709.7,986.0 1710.5,985.8 1711.3,985.9 1712.2,986.0 1713.0,985.4 1713.8,985.2 1714.6,985.1 1715.4,986.0 1716.2,985.6 1717.0,985.7 1717.8,984.9 1718.6,985.8 1719.4,984.8 1720.2,985.6 1721.0,985.7 1721.9,985.0 1722.7,985.7 1723.5,985.1 1724.3,985.8 1725.1,986.2 1725.9,985.4 1726.7,986.7 1727.5,984.6 1728.3,985.4 1729.1,986.2 1729.9,985.3 1730.7,985.4 1731.6,985.9 1732.4,986.3 1733.2,985.4 1734.0,985.0 1734.8,985.9 1735.6,986.6 1736.4,986.5 1737.2,986.0 1738.0,986.1 1738.8,986.9 1739.6,986.0 1740.4,986.9 1741.3,988.4 1742.1,986.0 1742.9,985.1 1743.7,986.8 1744.5,986.0 1745.3,986.1 1746.1,986.6 1746.9,986.2 1747.7,986.2 1748.5,986.1 1749.3,986.0 1750.1,986.1 1751.0,985.6 1751.8,986.5 1752.6,985.4 1753.4,984.2 1754.2,986.2 1755.0,985.9 1755.8,986.6 1756.6,984.5 1757.4,986.2 1758.2,986.8 1759.0,986.8 1759.8,987.7 1760.6,986.5 1761.5,986.4 1762.3,986.2 1763.1,985.7 1763.9,985.8 1764.7,985.5 1765.5,986.4 1766.3,985.9 1767.1,986.1 1767.9,985.5 1768.7,986.0 1769.5,985.4 1770.3,985.6 1771.2,985.7 1772.0,987.2 1772.8,984.8 1773.6,985.7 1774.4,986.5 1775.2,986.1 1776.0,986.2 1776.8,986.8 1777.6,986.5 1778.4,986.8 1779.2,986.3 1780.0,987.3 1780.9,987.0 1781.7,987.2 1782.5,987.7 1783.3,986.6 1784.1,986.7 1784.9,986.5 1785.7,986.6 1786.5,986.9 1787.3,986.7 1788.1,986.1 1788.9,986.8 1789.7,986.3 1790.6,986.4 1791.4,987.0 1792.2,986.8 1793.0,986.6 1793.8,986.3 1794.6,986.0 1795.4,986.7 1796.2,986.1 1797.0,987.2 1797.8,986.8 1798.6,987.0 1799.4,986.9 1800.3,987.5 1801.1,987.0 1801.9,987.4 1802.7,986.9 1803.5,986.8 1804.3,987.1 1805.1,986.1 1805.9,986.5 1806.7,986.4 1807.5,986.8 1808.3,986.1 1809.1,987.8 1810.0,986.2 1810.8,986.4 1811.6,987.0 1812.4,986.5 1813.2,986.2 1814.0,986.0 1814.8,986.7" fill="none" stroke="#058dc7" stroke-width="2.8"/></svg>
<div class="t" id="k74" style="left:1850.3px;top:898.4px;font-size:22px;color:#222;transform-origin:0 50%;transform:scaleX(1.0176);">Avg. Session Duration</div>
<div class="t" id="k75" style="left:1849.3px;top:934.1px;font-size:41px;color:#222;transform-origin:0 50%;transform:scaleX(1.0191);">00:02:35</div>
<div style="position:absolute;left:2165.4px;top:896.0px;width:2.0px;height:132.3px;background:#c9c9c9;"></div>
<svg style="position:absolute;left:0;top:0" width="3000" height="1803"><path d="M1854.1,1011.6 L1854.1,983.8 L1854.9,983.3 L1855.7,983.6 L1856.5,983.5 L1857.3,983.5 L1858.1,982.8 L1858.9,983.1 L1859.8,984.8 L1860.6,984.7 L1861.4,980.3 L1862.2,984.5 L1863.0,985.0 L1863.8,984.3 L1864.6,983.1 L1865.4,982.9 L1866.2,983.5 L1867.0,983.6 L1867.8,984.4 L1868.6,984.0 L1869.5,985.3 L1870.3,985.6 L1871.1,985.4 L1871.9,986.1 L1872.7,985.7 L1873.5,985.5 L1874.3,984.8 L1875.1,984.6 L1875.9,986.0 L1876.7,984.1 L1877.5,985.5 L1878.3,984.8 L1879.2,986.0 L1880.0,986.9 L1880.8,986.6 L1881.6,986.4 L1882.4,985.8 L1883.2,984.3 L1884.0,985.3 L1884.8,986.8 L1885.6,984.7 L1886.4,984.9 L1887.2,986.9 L1888.0,986.1 L1888.9,986.1 L1889.7,985.4 L1890.5,985.5 L1891.3,986.2 L1892.1,986.0 L1892.9,986.0 L1893.7,986.9 L1894.5,985.3 L1895.3,985.9 L1896.1,986.2 L1896.9,985.5 L1897.7,985.5 L1898.6,986.9 L1899.4,990.4 L1900.2,987.3 L1901.0,987.1 L1901.8,986.4 L1902.6,986.7 L1903.4,985.4 L1904.2,986.6 L1905.0,985.3 L1905.8,985.1 L1906.6,985.4 L1907.4,984.8 L1908.3,985.7 L1909.1,984.6 L1909.9,984.9 L1910.7,984.9 L1911.5,985.6 L1912.3,984.8 L1913.1,984.0 L1913.9,985.6 L1914.7,985.6 L1915.5,985.7 L1916.3,985.5 L1917.1,986.1 L1917.9,986.1 L1918.8,986.6 L1919.6,985.4 L1920.4,985.4 L1921.2,985.7 L1922.0,984.6 L1922.8,986.5 L1923.6,982.8 L1924.4,984.1 L1925.2,984.0 L1926.0,985.2 L1926.8,985.4 L1927.6,985.0 L1928.5,984.4 L1929.3,984.8 L1930.1,984.5 L1930.9,985.5 L1931.7,984.8 L1932.5,985.3 L1933.3,985.3 L1934.1,985.1 L1934.9,985.1 L1935.7,986.7 L1936.5,986.4 L1937.3,986.6 L1938.2,985.7 L1939.0,984.4 L1939.8,985.9 L1940.6,984.4 L1941.4,983.8 L1942.2,984.2 L1943.0,984.7 L1943.8,985.4 L1944.6,985.8 L1945.4,984.7 L1946.2,985.0 L1947.0,985.3 L1947.9,986.2 L1948.7,985.2 L1949.5,984.9 L1950.3,984.8 L1951.1,985.1 L1951.9,985.1 L1952.7,984.4 L1953.5,985.4 L1954.3,986.2 L1955.1,987.2 L1955.9,986.1 L1956.7,986.3 L1957.6,984.9 L1958.4,985.6 L1959.2,984.8 L1960.0,983.2 L1960.8,984.7 L1961.6,984.8 L1962.4,984.1 L1963.2,984.3 L1964.0,985.7 L1964.8,985.5 L1965.6,985.9 L1966.4,985.9 L1967.3,986.5 L1968.1,986.0 L1968.9,987.2 L1969.7,988.6 L1970.5,986.2 L1971.3,985.7 L1972.1,986.1 L1972.9,985.7 L1973.7,984.5 L1974.5,986.2 L1975.3,984.6 L1976.1,985.1 L1976.9,986.6 L1977.8,985.9 L1978.6,986.5 L1979.4,987.6 L1980.2,987.0 L1981.0,985.8 L1981.8,986.2 L1982.6,986.0 L1983.4,983.4 L1984.2,986.9 L1985.0,987.9 L1985.8,984.6 L1986.6,986.0 L1987.5,986.2 L1988.3,986.5 L1989.1,986.8 L1989.9,987.9 L1990.7,986.0 L1991.5,986.7 L1992.3,985.6 L1993.1,985.7 L1993.9,986.0 L1994.7,984.8 L1995.5,983.6 L1996.3,985.5 L1997.2,987.6 L1998.0,987.5 L1998.8,987.0 L1999.6,986.6 L2000.4,986.7 L2001.2,987.8 L2002.0,988.1 L2002.8,986.7 L2003.6,987.1 L2004.4,985.4 L2005.2,986.9 L2006.0,986.0 L2006.9,985.4 L2007.7,987.2 L2008.5,985.8 L2009.3,987.5 L2010.1,987.6 L2010.9,986.0 L2011.7,986.1 L2012.5,986.4 L2013.3,986.9 L2014.1,987.7 L2014.9,987.3 L2015.7,987.6 L2016.6,986.5 L2017.4,985.6 L2018.2,985.3 L2019.0,986.4 L2019.8,984.9 L2020.6,986.5 L2021.4,990.1 L2022.2,986.3 L2023.0,985.8 L2023.8,986.6 L2024.6,986.5 L2025.4,986.6 L2026.3,986.4 L2027.1,986.4 L2027.9,987.7 L2028.7,987.6 L2029.5,987.9 L2030.3,986.8 L2031.1,987.4 L2031.9,987.6 L2032.7,988.4 L2033.5,987.5 L2034.3,987.1 L2035.1,987.5 L2035.9,986.7 L2036.8,987.0 L2037.6,985.8 L2038.4,986.0 L2039.2,986.2 L2040.0,986.6 L2040.8,987.3 L2041.6,987.0 L2042.4,987.8 L2043.2,986.6 L2044.0,987.5 L2044.8,986.3 L2045.6,987.7 L2046.5,983.8 L2047.3,986.4 L2048.1,986.5 L2048.9,986.6 L2049.7,986.8 L2050.5,987.1 L2051.3,986.4 L2052.1,985.6 L2052.9,985.3 L2053.7,987.2 L2054.5,986.0 L2055.3,986.1 L2056.2,988.1 L2057.0,987.0 L2057.8,987.6 L2058.6,986.5 L2059.4,986.2 L2060.2,988.0 L2061.0,986.0 L2061.8,985.9 L2062.6,985.0 L2063.4,987.1 L2064.2,986.0 L2065.0,985.7 L2065.9,986.6 L2066.7,986.9 L2067.5,987.5 L2068.3,988.1 L2069.1,988.2 L2069.9,988.5 L2070.7,988.5 L2071.5,988.3 L2072.3,989.6 L2073.1,987.2 L2073.9,985.3 L2074.7,988.5 L2075.6,988.6 L2076.4,987.9 L2077.2,987.1 L2078.0,988.3 L2078.8,988.5 L2079.6,988.0 L2080.4,988.6 L2081.2,987.9 L2082.0,988.3 L2082.8,988.5 L2083.6,987.8 L2084.4,987.0 L2085.3,987.8 L2086.1,988.5 L2086.9,988.0 L2087.7,988.6 L2088.5,987.4 L2089.3,990.2 L2090.1,988.3 L2090.9,988.3 L2091.7,987.8 L2092.5,987.1 L2093.3,988.9 L2094.1,987.6 L2094.9,988.9 L2095.8,988.9 L2096.6,987.4 L2097.4,988.1 L2098.2,988.3 L2099.0,987.1 L2099.8,989.4 L2100.6,988.8 L2101.4,987.8 L2102.2,987.2 L2103.0,987.2 L2103.8,988.4 L2104.6,988.1 L2105.5,988.0 L2106.3,988.8 L2107.1,988.6 L2107.9,986.5 L2108.7,989.2 L2109.5,987.7 L2110.3,987.6 L2111.1,987.9 L2111.9,988.5 L2112.7,987.1 L2113.5,988.8 L2114.3,988.7 L2115.2,989.7 L2116.0,988.1 L2116.8,988.8 L2117.6,989.2 L2118.4,988.4 L2119.2,988.4 L2120.0,989.3 L2120.8,989.6 L2121.6,988.8 L2122.4,989.2 L2123.2,989.3 L2124.0,989.4 L2124.9,989.9 L2125.7,989.1 L2126.5,989.2 L2127.3,989.6 L2128.1,989.6 L2128.9,990.3 L2129.7,988.5 L2130.5,988.0 L2131.3,988.5 L2132.1,989.5 L2132.9,989.5 L2133.7,989.0 L2134.6,987.6 L2135.4,988.3 L2136.2,988.5 L2137.0,989.6 L2137.8,988.5 L2138.6,987.7 L2139.4,988.5 L2140.2,985.3 L2141.0,988.4 L2141.8,988.4 L2142.6,988.3 L2143.4,988.2 L2144.3,988.5 L2145.1,990.0 L2145.9,988.6 L2146.7,988.3 L2147.5,987.5 L2148.3,986.5 L2149.1,987.2 L2149.1,1011.6 Z" fill="#e6f2f9"/><polyline points="1854.1,983.8 1854.9,983.3 1855.7,983.6 1856.5,983.5 1857.3,983.5 1858.1,982.8 1858.9,983.1 1859.8,984.8 1860.6,984.7 1861.4,980.3 1862.2,984.5 1863.0,985.0 1863.8,984.3 1864.6,983.1 1865.4,982.9 1866.2,983.5 1867.0,983.6 1867.8,984.4 1868.6,984.0 1869.5,985.3 1870.3,985.6 1871.1,985.4 1871.9,986.1 1872.7,985.7 1873.5,985.5 1874.3,984.8 1875.1,984.6 1875.9,986.0 1876.7,984.1 1877.5,985.5 1878.3,984.8 1879.2,986.0 1880.0,986.9 1880.8,986.6 1881.6,986.4 1882.4,985.8 1883.2,984.3 1884.0,985.3 1884.8,986.8 1885.6,984.7 1886.4,984.9 1887.2,986.9 1888.0,986.1 1888.9,986.1 1889.7,985.4 1890.5,985.5 1891.3,986.2 1892.1,986.0 1892.9,986.0 1893.7,986.9 1894.5,985.3 1895.3,985.9 1896.1,986.2 1896.9,985.5 1897.7,985.5 1898.6,986.9 1899.4,990.4 1900.2,987.3 1901.0,987.1 1901.8,986.4 1902.6,986.7 1903.4,985.4 1904.2,986.6 1905.0,985.3 1905.8,985.1 1906.6,985.4 1907.4,984.8 1908.3,985.7 1909.1,984.6 1909.9,984.9 1910.7,984.9 1911.5,985.6 1912.3,984.8 1913.1,984.0 1913.9,985.6 1914.7,985.6 1915.5,985.7 1916.3,985.5 1917.1,986.1 1917.9,986.1 1918.8,986.6 1919.6,985.4 1920.4,985.4 1921.2,985.7 1922.0,984.6 1922.8,986.5 1923.6,982.8 1924.4,984.1 1925.2,984.0 1926.0,985.2 1926.8,985.4 1927.6,985.0 1928.5,984.4 1929.3,984.8 1930.1,984.5 1930.9,985.5 1931.7,984.8 1932.5,985.3 1933.3,985.3 1934.1,985.1 1934.9,985.1 1935.7,986.7 1936.5,986.4 1937.3,986.6 1938.2,985.7 1939.0,984.4 1939.8,985.9 1940.6,984.4 1941.4,983.8 1942.2,984.2 1943.0,984.7 1943.8,985.4 1944.6,985.8 1945.4,984.7 1946.2,985.0 1947.0,985.3 1947.9,986.2 1948.7,985.2 1949.5,984.9 1950.3,984.8 1951.1,985.1 1951.9,985.1 1952.7,984.4 1953.5,985.4 1954.3,986.2 1955.1,987.2 1955.9,986.1 1956.7,986.3 1957.6,984.9 1958.4,985.6 1959.2,984.8 1960.0,983.2 1960.8,984.7 1961.6,984.8 1962.4,984.1 1963.2,984.3 1964.0,985.7 1964.8,985.5 1965.6,985.9 1966.4,985.9 1967.3,986.5 1968.1,986.0 1968.9,987.2 1969.7,988.6 1970.5,986.2 1971.3,985.7 1972.1,986.1 1972.9,985.7 1973.7,984.5 1974.5,986.2 1975.3,984.6 1976.1,985.1 1976.9,986.6 1977.8,985.9 1978.6,986.5 1979.4,987.6 1980.2,987.0 1981.0,985.8 1981.8,986.2 1982.6,986.0 1983.4,983.4 1984.2,986.9 1985.0,987.9 1985.8,984.6 1986.6,986.0 1987.5,986.2 1988.3,986.5 1989.1,986.8 1989.9,987.9 1990.7,986.0 1991.5,986.7 1992.3,985.6 1993.1,985.7 1993.9,986.0 1994.7,984.8 1995.5,983.6 1996.3,985.5 1997.2,987.6 1998.0,987.5 1998.8,987.0 1999.6,986.6 2000.4,986.7 2001.2,987.8 2002.0,988.1 2002.8,986.7 2003.6,987.1 2004.4,985.4 2005.2,986.9 2006.0,986.0 2006.9,985.4 2007.7,987.2 2008.5,985.8 2009.3,987.5 2010.1,987.6 2010.9,986.0 2011.7,986.1 2012.5,986.4 2013.3,986.9 2014.1,987.7 2014.9,987.3 2015.7,987.6 2016.6,986.5 2017.4,985.6 2018.2,985.3 2019.0,986.4 2019.8,984.9 2020.6,986.5 2021.4,990.1 2022.2,986.3 2023.0,985.8 2023.8,986.6 2024.6,986.5 2025.4,986.6 2026.3,986.4 2027.1,986.4 2027.9,987.7 2028.7,987.6 2029.5,987.9 2030.3,986.8 2031.1,987.4 2031.9,987.6 2032.7,988.4 2033.5,987.5 2034.3,987.1 2035.1,987.5 2035.9,986.7 2036.8,987.0 2037.6,985.8 2038.4,986.0 2039.2,986.2 2040.0,986.6 2040.8,987.3 2041.6,987.0 2042.4,987.8 2043.2,986.6 2044.0,987.5 2044.8,986.3 2045.6,987.7 2046.5,983.8 2047.3,986.4 2048.1,986.5 2048.9,986.6 2049.7,986.8 2050.5,987.1 2051.3,986.4 2052.1,985.6 2052.9,985.3 2053.7,987.2 2054.5,986.0 2055.3,986.1 2056.2,988.1 2057.0,987.0 2057.8,987.6 2058.6,986.5 2059.4,986.2 2060.2,988.0 2061.0,986.0 2061.8,985.9 2062.6,985.0 2063.4,987.1 2064.2,986.0 2065.0,985.7 2065.9,986.6 2066.7,986.9 2067.5,987.5 2068.3,988.1 2069.1,988.2 2069.9,988.5 2070.7,988.5 2071.5,988.3 2072.3,989.6 2073.1,987.2 2073.9,985.3 2074.7,988.5 2075.6,988.6 2076.4,987.9 2077.2,987.1 2078.0,988.3 2078.8,988.5 2079.6,988.0 2080.4,988.6 2081.2,987.9 2082.0,988.3 2082.8,988.5 2083.6,987.8 2084.4,987.0 2085.3,987.8 2086.1,988.5 2086.9,988.0 2087.7,988.6 2088.5,987.4 2089.3,990.2 2090.1,988.3 2090.9,988.3 2091.7,987.8 2092.5,987.1 2093.3,988.9 2094.1,987.6 2094.9,988.9 2095.8,988.9 2096.6,987.4 2097.4,988.1 2098.2,988.3 2099.0,987.1 2099.8,989.4 2100.6,988.8 2101.4,987.8 2102.2,987.2 2103.0,987.2 2103.8,988.4 2104.6,988.1 2105.5,988.0 2106.3,988.8 2107.1,988.6 2107.9,986.5 2108.7,989.2 2109.5,987.7 2110.3,987.6 2111.1,987.9 2111.9,988.5 2112.7,987.1 2113.5,988.8 2114.3,988.7 2115.2,989.7 2116.0,988.1 2116.8,988.8 2117.6,989.2 2118.4,988.4 2119.2,988.4 2120.0,989.3 2120.8,989.6 2121.6,988.8 2122.4,989.2 2123.2,989.3 2124.0,989.4 2124.9,989.9 2125.7,989.1 2126.5,989.2 2127.3,989.6 2128.1,989.6 2128.9,990.3 2129.7,988.5 2130.5,988.0 2131.3,988.5 2132.1,989.5 2132.9,989.5 2133.7,989.0 2134.6,987.6 2135.4,988.3 2136.2,988.5 2137.0,989.6 2137.8,988.5 2138.6,987.7 2139.4,988.5 2140.2,985.3 2141.0,988.4 2141.8,988.4 2142.6,988.3 2143.4,988.2 2144.3,988.5 2145.1,990.0 2145.9,988.6 2146.7,988.3 2147.5,987.5 2148.3,986.5 2149.1,987.2" fill="none" stroke="#058dc7" stroke-width="2.8"/></svg>
<div class="t" id="k76" style="left:512.2px;top:1075.8px;font-size:22px;color:#222;transform-origin:0 50%;transform:scaleX(1.0112);">Bounce Rate</div>
<div class="t" id="k77" style="left:513.6px;top:1111.5px;font-size:41px;color:#222;transform-origin:0 50%;transform:scaleX(0.9781);">49.21%</div>
<div style="position:absolute;left:828.2px;top:1073.4px;width:2.0px;height:132.3px;background:#c9c9c9;"></div>
<svg style="position:absolute;left:0;top:0" width="3000" height="1803"><path d="M516.9,1189.0 L516.9,1165.3 L517.7,1168.2 L518.5,1167.4 L519.3,1167.5 L520.1,1167.0 L520.9,1168.3 L521.7,1166.7 L522.6,1168.6 L523.4,1167.5 L524.2,1166.6 L525.0,1166.4 L525.8,1167.3 L526.6,1166.2 L527.4,1166.6 L528.2,1166.2 L529.0,1167.4 L529.8,1166.5 L530.6,1166.6 L531.4,1167.1 L532.3,1167.0 L533.1,1164.8 L533.9,1168.2 L534.7,1165.8 L535.5,1165.9 L536.3,1166.3 L537.1,1166.1 L537.9,1167.2 L538.7,1167.0 L539.5,1166.5 L540.3,1166.6 L541.1,1165.9 L542.0,1167.2 L542.8,1166.9 L543.6,1167.6 L544.4,1168.0 L545.2,1169.0 L546.0,1168.3 L546.8,1169.2 L547.6,1167.9 L548.4,1169.6 L549.2,1167.6 L550.0,1167.2 L550.8,1166.5 L551.7,1165.8 L552.5,1166.8 L553.3,1167.5 L554.1,1167.5 L554.9,1167.3 L555.7,1167.9 L556.5,1169.2 L557.3,1167.1 L558.1,1167.3 L558.9,1167.0 L559.7,1167.6 L560.5,1166.5 L561.4,1167.2 L562.2,1167.8 L563.0,1167.1 L563.8,1166.7 L564.6,1166.2 L565.4,1163.9 L566.2,1168.1 L567.0,1166.8 L567.8,1166.7 L568.6,1166.9 L569.4,1167.6 L570.2,1166.9 L571.1,1166.8 L571.9,1166.1 L572.7,1166.8 L573.5,1166.6 L574.3,1166.7 L575.1,1167.4 L575.9,1165.6 L576.7,1166.0 L577.5,1166.0 L578.3,1167.2 L579.1,1167.3 L579.9,1167.6 L580.7,1166.4 L581.6,1167.2 L582.4,1167.4 L583.2,1166.2 L584.0,1166.4 L584.8,1166.4 L585.6,1166.3 L586.4,1166.7 L587.2,1166.3 L588.0,1166.9 L588.8,1166.6 L589.6,1167.3 L590.4,1167.2 L591.3,1167.3 L592.1,1168.3 L592.9,1167.3 L593.7,1169.5 L594.5,1168.1 L595.3,1167.1 L596.1,1167.9 L596.9,1167.3 L597.7,1167.2 L598.5,1167.1 L599.3,1166.8 L600.1,1167.8 L601.0,1167.0 L601.8,1167.4 L602.6,1168.1 L603.4,1168.0 L604.2,1169.3 L605.0,1168.9 L605.8,1168.7 L606.6,1165.6 L607.4,1167.8 L608.2,1168.5 L609.0,1166.8 L609.8,1166.4 L610.7,1167.0 L611.5,1166.3 L612.3,1167.3 L613.1,1165.6 L613.9,1166.7 L614.7,1166.1 L615.5,1167.5 L616.3,1167.3 L617.1,1167.2 L617.9,1166.8 L618.7,1167.4 L619.5,1167.8 L620.4,1167.2 L621.2,1167.7 L622.0,1168.4 L622.8,1167.3 L623.6,1168.3 L624.4,1167.3 L625.2,1168.1 L626.0,1167.9 L626.8,1166.3 L627.6,1169.1 L628.4,1168.9 L629.2,1168.6 L630.1,1168.4 L630.9,1168.1 L631.7,1167.4 L632.5,1167.5 L633.3,1168.3 L634.1,1167.7 L634.9,1168.0 L635.7,1167.1 L636.5,1168.3 L637.3,1170.5 L638.1,1167.8 L638.9,1168.5 L639.7,1167.8 L640.6,1168.4 L641.4,1168.2 L642.2,1167.3 L643.0,1168.6 L643.8,1169.5 L644.6,1166.5 L645.4,1167.7 L646.2,1167.4 L647.0,1167.6 L647.8,1167.8 L648.6,1168.9 L649.4,1168.2 L650.3,1168.9 L651.1,1167.9 L651.9,1168.4 L652.7,1168.6 L653.5,1168.8 L654.3,1168.0 L655.1,1166.6 L655.9,1166.6 L656.7,1168.4 L657.5,1168.3 L658.3,1167.6 L659.1,1168.7 L660.0,1169.1 L660.8,1171.4 L661.6,1169.6 L662.4,1168.3 L663.2,1168.5 L664.0,1169.1 L664.8,1167.9 L665.6,1167.6 L666.4,1167.2 L667.2,1168.3 L668.0,1168.3 L668.8,1168.7 L669.7,1168.5 L670.5,1168.4 L671.3,1168.5 L672.1,1170.7 L672.9,1169.1 L673.7,1167.2 L674.5,1166.9 L675.3,1167.9 L676.1,1166.6 L676.9,1166.9 L677.7,1167.6 L678.5,1166.8 L679.4,1166.5 L680.2,1166.9 L681.0,1167.4 L681.8,1165.7 L682.6,1166.7 L683.4,1166.9 L684.2,1167.1 L685.0,1167.2 L685.8,1167.3 L686.6,1168.2 L687.4,1168.8 L688.2,1168.6 L689.1,1167.4 L689.9,1167.9 L690.7,1168.0 L691.5,1168.0 L692.3,1167.5 L693.1,1167.9 L693.9,1166.7 L694.7,1166.7 L695.5,1166.9 L696.3,1167.0 L697.1,1166.7 L697.9,1165.7 L698.7,1166.5 L699.6,1164.5 L700.4,1166.7 L701.2,1166.1 L702.0,1165.4 L702.8,1167.1 L703.6,1165.8 L704.4,1166.3 L705.2,1166.9 L706.0,1164.3 L706.8,1166.4 L707.6,1167.4 L708.4,1166.1 L709.3,1166.0 L710.1,1164.7 L710.9,1165.6 L711.7,1164.4 L712.5,1165.2 L713.3,1163.8 L714.1,1164.4 L714.9,1163.7 L715.7,1165.3 L716.5,1164.3 L717.3,1164.3 L718.1,1165.1 L719.0,1164.4 L719.8,1163.4 L720.6,1164.0 L721.4,1163.3 L722.2,1163.4 L723.0,1162.9 L723.8,1162.5 L724.6,1162.7 L725.4,1163.3 L726.2,1163.3 L727.0,1162.4 L727.8,1162.6 L728.7,1162.9 L729.5,1159.1 L730.3,1162.9 L731.1,1163.3 L731.9,1163.5 L732.7,1163.9 L733.5,1163.6 L734.3,1163.8 L735.1,1163.2 L735.9,1163.8 L736.7,1163.5 L737.5,1163.1 L738.4,1162.3 L739.2,1161.7 L740.0,1162.0 L740.8,1162.4 L741.6,1162.5 L742.4,1163.3 L743.2,1164.9 L744.0,1163.6 L744.8,1163.9 L745.6,1162.8 L746.4,1163.0 L747.2,1162.8 L748.1,1162.3 L748.9,1162.2 L749.7,1162.3 L750.5,1162.4 L751.3,1161.8 L752.1,1162.5 L752.9,1162.5 L753.7,1163.1 L754.5,1162.5 L755.3,1162.7 L756.1,1163.0 L756.9,1162.7 L757.7,1163.1 L758.6,1162.7 L759.4,1161.9 L760.2,1164.4 L761.0,1160.3 L761.8,1161.2 L762.6,1163.2 L763.4,1162.3 L764.2,1162.9 L765.0,1163.4 L765.8,1165.7 L766.6,1164.3 L767.4,1164.1 L768.3,1161.9 L769.1,1162.5 L769.9,1161.7 L770.7,1162.5 L771.5,1164.1 L772.3,1162.5 L773.1,1162.6 L773.9,1162.2 L774.7,1163.1 L775.5,1162.4 L776.3,1163.0 L777.1,1163.3 L778.0,1163.2 L778.8,1163.4 L779.6,1163.2 L780.4,1163.7 L781.2,1163.0 L782.0,1162.0 L782.8,1163.2 L783.6,1160.7 L784.4,1164.5 L785.2,1162.5 L786.0,1163.3 L786.8,1163.4 L787.7,1163.2 L788.5,1163.2 L789.3,1162.8 L790.1,1163.6 L790.9,1162.8 L791.7,1164.0 L792.5,1163.8 L793.3,1161.5 L794.1,1163.0 L794.9,1163.5 L795.7,1162.6 L796.5,1163.9 L797.4,1163.9 L798.2,1162.2 L799.0,1162.9 L799.8,1162.5 L800.6,1163.1 L801.4,1162.5 L802.2,1161.0 L803.0,1163.8 L803.8,1161.9 L804.6,1162.8 L805.4,1162.3 L806.2,1162.2 L807.1,1163.6 L807.9,1164.6 L808.7,1163.5 L809.5,1162.9 L810.3,1162.8 L811.1,1162.6 L811.9,1162.9 L811.9,1189.0 Z" fill="#e6f2f9"/><polyline points="516.9,1165.3 517.7,1168.2 518.5,1167.4 519.3,1167.5 520.1,1167.0 520.9,1168.3 521.7,1166.7 522.6,1168.6 523.4,1167.5 524.2,1166.6 525.0,1166.4 525.8,1167.3 526.6,1166.2 527.4,1166.6 528.2,1166.2 529.0,1167.4 529.8,1166.5 530.6,1166.6 531.4,1167.1 532.3,1167.0 533.1,1164.8 533.9,1168.2 534.7,1165.8 535.5,1165.9 536.3,1166.3 537.1,1166.1 537.9,1167.2 538.7,1167.0 539.5,1166.5 540.3,1166.6 541.1,1165.9 542.0,1167.2 542.8,1166.9 543.6,1167.6 544.4,1168.0 545.2,1169.0 546.0,1168.3 546.8,1169.2 547.6,1167.9 548.4,1169.6 549.2,1167.6 550.0,1167.2 550.8,1166.5 551.7,1165.8 552.5,1166.8 553.3,1167.5 554.1,1167.5 554.9,1167.3 555.7,1167.9 556.5,1169.2 557.3,1167.1 558.1,1167.3 558.9,1167.0 559.7,1167.6 560.5,1166.5 561.4,1167.2 562.2,1167.8 563.0,1167.1 563.8,1166.7 564.6,1166.2 565.4,1163.9 566.2,1168.1 567.0,1166.8 567.8,1166.7 568.6,1166.9 569.4,1167.6 570.2,1166.9 571.1,1166.8 571.9,1166.1 572.7,1166.8 573.5,1166.6 574.3,1166.7 575.1,1167.4 575.9,1165.6 576.7,1166.0 577.5,1166.0 578.3,1167.2 579.1,1167.3 579.9,1167.6 580.7,1166.4 581.6,1167.2 582.4,1167.4 583.2,1166.2 584.0,1166.4 584.8,1166.4 585.6,1166.3 586.4,1166.7 587.2,1166.3 588.0,1166.9 588.8,1166.6 589.6,1167.3 590.4,1167.2 591.3,1167.3 592.1,1168.3 592.9,1167.3 593.7,1169.5 594.5,1168.1 595.3,1167.1 596.1,1167.9 596.9,1167.3 597.7,1167.2 598.5,1167.1 599.3,1166.8 600.1,1167.8 601.0,1167.0 601.8,1167.4 602.6,1168.1 603.4,1168.0 604.2,1169.3 605.0,1168.9 605.8,1168.7 606.6,1165.6 607.4,1167.8 608.2,1168.5 609.0,1166.8 609.8,1166.4 610.7,1167.0 611.5,1166.3 612.3,1167.3 613.1,1165.6 613.9,1166.7 614.7,1166.1 615.5,1167.5 616.3,1167.3 617.1,1167.2 617.9,1166.8 618.7,1167.4 619.5,1167.8 620.4,1167.2 621.2,1167.7 622.0,1168.4 622.8,1167.3 623.6,1168.3 624.4,1167.3 625.2,1168.1 626.0,1167.9 626.8,1166.3 627.6,1169.1 628.4,1168.9 629.2,1168.6 630.1,1168.4 630.9,1168.1 631.7,1167.4 632.5,1167.5 633.3,1168.3 634.1,1167.7 634.9,1168.0 635.7,1167.1 636.5,1168.3 637.3,1170.5 638.1,1167.8 638.9,1168.5 639.7,1167.8 640.6,1168.4 641.4,1168.2 642.2,1167.3 643.0,1168.6 643.8,1169.5 644.6,1166.5 645.4,1167.7 646.2,1167.4 647.0,1167.6 647.8,1167.8 648.6,1168.9 649.4,1168.2 650.3,1168.9 651.1,1167.9 651.9,1168.4 652.7,1168.6 653.5,1168.8 654.3,1168.0 655.1,1166.6 655.9,1166.6 656.7,1168.4 657.5,1168.3 658.3,1167.6 659.1,1168.7 660.0,1169.1 660.8,1171.4 661.6,1169.6 662.4,1168.3 663.2,1168.5 664.0,1169.1 664.8,1167.9 665.6,1167.6 666.4,1167.2 667.2,1168.3 668.0,1168.3 668.8,1168.7 669.7,1168.5 670.5,1168.4 671.3,1168.5 672.1,1170.7 672.9,1169.1 673.7,1167.2 674.5,1166.9 675.3,1167.9 676.1,1166.6 676.9,1166.9 677.7,1167.6 678.5,1166.8 679.4,1166.5 680.2,1166.9 681.0,1167.4 681.8,1165.7 682.6,1166.7 683.4,1166.9 684.2,1167.1 685.0,1167.2 685.8,1167.3 686.6,1168.2 687.4,1168.8 688.2,1168.6 689.1,1167.4 689.9,1167.9 690.7,1168.0 691.5,1168.0 692.3,1167.5 693.1,1167.9 693.9,1166.7 694.7,1166.7 695.5,1166.9 696.3,1167.0 697.1,1166.7 697.9,1165.7 698.7,1166.5 699.6,1164.5 700.4,1166.7 701.2,1166.1 702.0,1165.4 702.8,1167.1 703.6,1165.8 704.4,1166.3 705.2,1166.9 706.0,1164.3 706.8,1166.4 707.6,1167.4 708.4,1166.1 709.3,1166.0 710.1,1164.7 710.9,1165.6 711.7,1164.4 712.5,1165.2 713.3,1163.8 714.1,1164.4 714.9,1163.7 715.7,1165.3 716.5,1164.3 717.3,1164.3 718.1,1165.1 719.0,1164.4 719.8,1163.4 720.6,1164.0 721.4,1163.3 722.2,1163.4 723.0,1162.9 723.8,1162.5 724.6,1162.7 725.4,1163.3 726.2,1163.3 727.0,1162.4 727.8,1162.6 728.7,1162.9 729.5,1159.1 730.3,1162.9 731.1,1163.3 731.9,1163.5 732.7,1163.9 733.5,1163.6 734.3,1163.8 735.1,1163.2 735.9,1163.8 736.7,1163.5 737.5,1163.1 738.4,1162.3 739.2,1161.7 740.0,1162.0 740.8,1162.4 741.6,1162.5 742.4,1163.3 743.2,1164.9 744.0,1163.6 744.8,1163.9 745.6,1162.8 746.4,1163.0 747.2,1162.8 748.1,1162.3 748.9,1162.2 749.7,1162.3 750.5,1162.4 751.3,1161.8 752.1,1162.5 752.9,1162.5 753.7,1163.1 754.5,1162.5 755.3,1162.7 756.1,1163.0 756.9,1162.7 757.7,1163.1 758.6,1162.7 759.4,1161.9 760.2,1164.4 761.0,1160.3 761.8,1161.2 762.6,1163.2 763.4,1162.3 764.2,1162.9 765.0,1163.4 765.8,1165.7 766.6,1164.3 767.4,1164.1 768.3,1161.9 769.1,1162.5 769.9,1161.7 770.7,1162.5 771.5,1164.1 772.3,1162.5 773.1,1162.6 773.9,1162.2 774.7,1163.1 775.5,1162.4 776.3,1163.0 777.1,1163.3 778.0,1163.2 778.8,1163.4 779.6,1163.2 780.4,1163.7 781.2,1163.0 782.0,1162.0 782.8,1163.2 783.6,1160.7 784.4,1164.5 785.2,1162.5 786.0,1163.3 786.8,1163.4 787.7,1163.2 788.5,1163.2 789.3,1162.8 790.1,1163.6 790.9,1162.8 791.7,1164.0 792.5,1163.8 793.3,1161.5 794.1,1163.0 794.9,1163.5 795.7,1162.6 796.5,1163.9 797.4,1163.9 798.2,1162.2 799.0,1162.9 799.8,1162.5 800.6,1163.1 801.4,1162.5 802.2,1161.0 803.0,1163.8 803.8,1161.9 804.6,1162.8 805.4,1162.3 806.2,1162.2 807.1,1163.6 807.9,1164.6 808.7,1163.5 809.5,1162.9 810.3,1162.8 811.1,1162.6 811.9,1162.9" fill="none" stroke="#058dc7" stroke-width="2.8"/></svg>
<div class="t" id="k78" style="left:846.8px;top:1075.8px;font-size:22px;color:#222;transform-origin:0 50%;">% New Sessions</div>
<div class="t" id="k79" style="left:845.8px;top:1111.5px;font-size:41px;color:#222;transform-origin:0 50%;transform:scaleX(0.9868);">61.94%</div>
<div style="position:absolute;left:1162.5px;top:1073.4px;width:2.0px;height:132.3px;background:#c9c9c9;"></div>
<svg style="position:absolute;left:0;top:0" width="3000" height="1803"><path d="M851.2,1189.0 L851.2,1164.8 L852.0,1164.5 L852.8,1164.7 L853.6,1164.5 L854.4,1164.3 L855.2,1164.4 L856.0,1164.1 L856.9,1164.0 L857.7,1164.5 L858.5,1164.3 L859.3,1162.9 L860.1,1164.5 L860.9,1164.9 L861.7,1164.2 L862.5,1164.8 L863.3,1164.8 L864.1,1164.6 L864.9,1164.5 L865.7,1164.8 L866.6,1164.6 L867.4,1164.7 L868.2,1164.6 L869.0,1164.4 L869.8,1164.1 L870.6,1164.4 L871.4,1164.2 L872.2,1163.9 L873.0,1165.1 L873.8,1164.2 L874.6,1163.9 L875.4,1164.4 L876.3,1164.2 L877.1,1164.0 L877.9,1164.2 L878.7,1164.1 L879.5,1163.9 L880.3,1163.7 L881.1,1164.0 L881.9,1164.0 L882.7,1164.2 L883.5,1163.7 L884.3,1164.1 L885.1,1163.8 L886.0,1163.5 L886.8,1163.7 L887.6,1163.6 L888.4,1163.4 L889.2,1163.6 L890.0,1163.8 L890.8,1163.4 L891.6,1163.3 L892.4,1163.9 L893.2,1163.1 L894.0,1163.0 L894.8,1163.0 L895.7,1163.1 L896.5,1164.3 L897.3,1164.1 L898.1,1163.4 L898.9,1163.9 L899.7,1163.6 L900.5,1163.5 L901.3,1163.4 L902.1,1162.6 L902.9,1162.9 L903.7,1163.9 L904.5,1163.8 L905.4,1163.8 L906.2,1164.2 L907.0,1163.8 L907.8,1164.0 L908.6,1163.9 L909.4,1164.0 L910.2,1163.4 L911.0,1163.6 L911.8,1163.8 L912.6,1163.2 L913.4,1163.5 L914.2,1163.7 L915.0,1163.4 L915.9,1163.5 L916.7,1163.3 L917.5,1163.5 L918.3,1163.4 L919.1,1163.8 L919.9,1164.1 L920.7,1164.0 L921.5,1164.2 L922.3,1163.6 L923.1,1163.5 L923.9,1163.5 L924.7,1163.8 L925.6,1164.2 L926.4,1164.0 L927.2,1164.1 L928.0,1163.8 L928.8,1164.1 L929.6,1163.6 L930.4,1164.0 L931.2,1164.0 L932.0,1163.7 L932.8,1163.6 L933.6,1163.7 L934.4,1163.8 L935.3,1165.0 L936.1,1164.1 L936.9,1164.1 L937.7,1164.2 L938.5,1164.2 L939.3,1164.0 L940.1,1163.9 L940.9,1164.2 L941.7,1163.5 L942.5,1163.9 L943.3,1163.7 L944.1,1163.8 L945.0,1164.4 L945.8,1163.7 L946.6,1163.6 L947.4,1164.1 L948.2,1163.8 L949.0,1163.2 L949.8,1163.2 L950.6,1162.9 L951.4,1163.3 L952.2,1163.5 L953.0,1163.4 L953.8,1164.0 L954.7,1163.9 L955.5,1164.0 L956.3,1164.0 L957.1,1164.1 L957.9,1163.4 L958.7,1163.6 L959.5,1163.5 L960.3,1164.3 L961.1,1163.8 L961.9,1164.2 L962.7,1163.6 L963.5,1163.8 L964.4,1164.2 L965.2,1163.9 L966.0,1164.3 L966.8,1164.4 L967.6,1164.7 L968.4,1164.1 L969.2,1164.5 L970.0,1164.3 L970.8,1164.1 L971.6,1164.0 L972.4,1164.2 L973.2,1164.1 L974.0,1163.8 L974.9,1163.6 L975.7,1164.1 L976.5,1163.7 L977.3,1164.8 L978.1,1163.8 L978.9,1163.5 L979.7,1163.8 L980.5,1164.0 L981.3,1163.7 L982.1,1163.6 L982.9,1164.0 L983.7,1163.1 L984.6,1164.2 L985.4,1164.0 L986.2,1163.4 L987.0,1164.4 L987.8,1164.5 L988.6,1163.9 L989.4,1164.5 L990.2,1164.4 L991.0,1164.4 L991.8,1164.3 L992.6,1164.3 L993.4,1164.4 L994.3,1164.0 L995.1,1163.8 L995.9,1164.6 L996.7,1164.6 L997.5,1164.6 L998.3,1164.3 L999.1,1164.2 L999.9,1163.9 L1000.7,1164.5 L1001.5,1163.8 L1002.3,1164.0 L1003.1,1164.5 L1004.0,1164.3 L1004.8,1164.3 L1005.6,1164.2 L1006.4,1163.8 L1007.2,1163.9 L1008.0,1163.2 L1008.8,1164.2 L1009.6,1164.3 L1010.4,1164.4 L1011.2,1164.0 L1012.0,1163.9 L1012.8,1163.5 L1013.7,1164.0 L1014.5,1164.1 L1015.3,1164.0 L1016.1,1164.2 L1016.9,1164.0 L1017.7,1164.3 L1018.5,1164.4 L1019.3,1164.5 L1020.1,1164.6 L1020.9,1164.4 L1021.7,1164.6 L1022.5,1163.7 L1023.4,1163.4 L1024.2,1163.9 L1025.0,1163.7 L1025.8,1163.1 L1026.6,1164.0 L1027.4,1163.7 L1028.2,1163.7 L1029.0,1164.1 L1029.8,1163.0 L1030.6,1163.7 L1031.4,1163.7 L1032.2,1162.2 L1033.0,1163.5 L1033.9,1163.6 L1034.7,1163.3 L1035.5,1163.4 L1036.3,1163.6 L1037.1,1163.2 L1037.9,1163.8 L1038.7,1164.3 L1039.5,1163.5 L1040.3,1162.7 L1041.1,1162.3 L1041.9,1163.5 L1042.7,1163.7 L1043.6,1163.6 L1044.4,1163.3 L1045.2,1163.3 L1046.0,1163.5 L1046.8,1163.0 L1047.6,1163.1 L1048.4,1162.7 L1049.2,1163.7 L1050.0,1163.7 L1050.8,1163.4 L1051.6,1164.2 L1052.4,1163.8 L1053.3,1163.6 L1054.1,1163.4 L1054.9,1163.2 L1055.7,1163.2 L1056.5,1163.7 L1057.3,1163.8 L1058.1,1163.5 L1058.9,1163.4 L1059.7,1163.2 L1060.5,1163.8 L1061.3,1163.3 L1062.1,1163.7 L1063.0,1163.8 L1063.8,1163.8 L1064.6,1163.6 L1065.4,1163.5 L1066.2,1163.6 L1067.0,1163.8 L1067.8,1163.3 L1068.6,1163.2 L1069.4,1163.7 L1070.2,1163.5 L1071.0,1163.4 L1071.8,1163.7 L1072.7,1163.4 L1073.5,1163.3 L1074.3,1163.5 L1075.1,1163.8 L1075.9,1163.3 L1076.7,1163.6 L1077.5,1163.1 L1078.3,1162.6 L1079.1,1163.2 L1079.9,1162.9 L1080.7,1162.6 L1081.5,1163.1 L1082.4,1163.0 L1083.2,1163.4 L1084.0,1163.4 L1084.8,1163.8 L1085.6,1163.2 L1086.4,1163.1 L1087.2,1163.1 L1088.0,1163.0 L1088.8,1163.5 L1089.6,1163.6 L1090.4,1163.0 L1091.2,1163.2 L1092.0,1163.2 L1092.9,1163.3 L1093.7,1162.8 L1094.5,1162.7 L1095.3,1162.9 L1096.1,1162.0 L1096.9,1162.3 L1097.7,1162.6 L1098.5,1163.0 L1099.3,1162.2 L1100.1,1162.2 L1100.9,1162.3 L1101.7,1162.5 L1102.6,1163.0 L1103.4,1162.9 L1104.2,1162.5 L1105.0,1162.7 L1105.8,1163.4 L1106.6,1163.0 L1107.4,1163.1 L1108.2,1162.6 L1109.0,1162.9 L1109.8,1162.9 L1110.6,1163.0 L1111.4,1163.1 L1112.3,1163.1 L1113.1,1162.7 L1113.9,1162.7 L1114.7,1162.8 L1115.5,1164.3 L1116.3,1163.0 L1117.1,1163.1 L1117.9,1163.3 L1118.7,1163.2 L1119.5,1163.5 L1120.3,1163.6 L1121.1,1163.4 L1122.0,1163.0 L1122.8,1163.2 L1123.6,1162.9 L1124.4,1162.4 L1125.2,1162.8 L1126.0,1164.2 L1126.8,1163.0 L1127.6,1163.2 L1128.4,1163.3 L1129.2,1163.9 L1130.0,1163.3 L1130.8,1163.3 L1131.7,1163.4 L1132.5,1163.5 L1133.3,1162.9 L1134.1,1163.1 L1134.9,1163.0 L1135.7,1163.5 L1136.5,1163.2 L1137.3,1163.4 L1138.1,1162.8 L1138.9,1164.0 L1139.7,1164.0 L1140.5,1163.7 L1141.4,1163.7 L1142.2,1163.3 L1143.0,1163.6 L1143.8,1163.4 L1144.6,1164.0 L1145.4,1163.9 L1146.2,1163.7 L1146.2,1189.0 Z" fill="#e6f2f9"/><polyline points="851.2,1164.8 852.0,1164.5 852.8,1164.7 853.6,1164.5 854.4,1164.3 855.2,1164.4 856.0,1164.1 856.9,1164.0 857.7,1164.5 858.5,1164.3 859.3,1162.9 860.1,1164.5 860.9,1164.9 861.7,1164.2 862.5,1164.8 863.3,1164.8 864.1,1164.6 864.9,1164.5 865.7,1164.8 866.6,1164.6 867.4,1164.7 868.2,1164.6 869.0,1164.4 869.8,1164.1 870.6,1164.4 871.4,1164.2 872.2,1163.9 873.0,1165.1 873.8,1164.2 874.6,1163.9 875.4,1164.4 876.3,1164.2 877.1,1164.0 877.9,1164.2 878.7,1164.1 879.5,1163.9 880.3,1163.7 881.1,1164.0 881.9,1164.0 882.7,1164.2 883.5,1163.7 884.3,1164.1 885.1,1163.8 886.0,1163.5 886.8,1163.7 887.6,1163.6 888.4,1163.4 889.2,1163.6 890.0,1163.8 890.8,1163.4 891.6,1163.3 892.4,1163.9 893.2,1163.1 894.0,1163.0 894.8,1163.0 895.7,1163.1 896.5,1164.3 897.3,1164.1 898.1,1163.4 898.9,1163.9 899.7,1163.6 900.5,1163.5 901.3,1163.4 902.1,1162.6 902.9,1162.9 903.7,1163.9 904.5,1163.8 905.4,1163.8 906.2,1164.2 907.0,1163.8 907.8,1164.0 908.6,1163.9 909.4,1164.0 910.2,1163.4 911.0,1163.6 911.8,1163.8 912.6,1163.2 913.4,1163.5 914.2,1163.7 915.0,1163.4 915.9,1163.5 916.7,1163.3 917.5,1163.5 918.3,1163.4 919.1,1163.8 919.9,1164.1 920.7,1164.0 921.5,1164.2 922.3,1163.6 923.1,1163.5 923.9,1163.5 924.7,1163.8 925.6,1164.2 926.4,1164.0 927.2,1164.1 928.0,1163.8 928.8,1164.1 929.6,1163.6 930.4,1164.0 931.2,1164.0 932.0,1163.7 932.8,1163.6 933.6,1163.7 934.4,1163.8 935.3,1165.0 936.1,1164.1 936.9,1164.1 937.7,1164.2 938.5,1164.2 939.3,1164.0 940.1,1163.9 940.9,1164.2 941.7,1163.5 942.5,1163.9 943.3,1163.7 944.1,1163.8 945.0,1164.4 945.8,1163.7 946.6,1163.6 947.4,1164.1 948.2,1163.8 949.0,1163.2 949.8,1163.2 950.6,1162.9 951.4,1163.3 952.2,1163.5 953.0,1163.4 953.8,1164.0 954.7,1163.9 955.5,1164.0 956.3,1164.0 957.1,1164.1 957.9,1163.4 958.7,1163.6 959.5,1163.5 960.3,1164.3 961.1,1163.8 961.9,1164.2 962.7,1163.6 963.5,1163.8 964.4,1164.2 965.2,1163.9 966.0,1164.3 966.8,1164.4 967.6,1164.7 968.4,1164.1 969.2,1164.5 970.0,1164.3 970.8,1164.1 971.6,1164.0 972.4,1164.2 973.2,1164.1 974.0,1163.8 974.9,1163.6 975.7,1164.1 976.5,1163.7 977.3,1164.8 978.1,1163.8 978.9,1163.5 979.7,1163.8 980.5,1164.0 981.3,1163.7 982.1,1163.6 982.9,1164.0 983.7,1163.1 984.6,1164.2 985.4,1164.0 986.2,1163.4 987.0,1164.4 987.8,1164.5 988.6,1163.9 989.4,1164.5 990.2,1164.4 991.0,1164.4 991.8,1164.3 992.6,1164.3 993.4,1164.4 994.3,1164.0 995.1,1163.8 995.9,1164.6 996.7,1164.6 997.5,1164.6 998.3,1164.3 999.1,1164.2 999.9,1163.9 1000.7,1164.5 1001.5,1163.8 1002.3,1164.0 1003.1,1164.5 1004.0,1164.3 1004.8,1164.3 1005.6,1164.2 1006.4,1163.8 1007.2,1163.9 1008.0,1163.2 1008.8,1164.2 1009.6,1164.3 1010.4,1164.4 1011.2,1164.0 1012.0,1163.9 1012.8,1163.5 1013.7,1164.0 1014.5,1164.1 1015.3,1164.0 1016.1,1164.2 1016.9,1164.0 1017.7,1164.3 1018.5,1164.4 1019.3,1164.5 1020.1,1164.6 1020.9,1164.4 1021.7,1164.6 1022.5,1163.7 1023.4,1163.4 1024.2,1163.9 1025.0,1163.7 1025.8,1163.1 1026.6,1164.0 1027.4,1163.7 1028.2,1163.7 1029.0,1164.1 1029.8,1163.0 1030.6,1163.7 1031.4,1163.7 1032.2,1162.2 1033.0,1163.5 1033.9,1163.6 1034.7,1163.3 1035.5,1163.4 1036.3,1163.6 1037.1,1163.2 1037.9,1163.8 1038.7,1164.3 1039.5,1163.5 1040.3,1162.7 1041.1,1162.3 1041.9,1163.5 1042.7,1163.7 1043.6,1163.6 1044.4,1163.3 1045.2,1163.3 1046.0,1163.5 1046.8,1163.0 1047.6,1163.1 1048.4,1162.7 1049.2,1163.7 1050.0,1163.7 1050.8,1163.4 1051.6,1164.2 1052.4,1163.8 1053.3,1163.6 1054.1,1163.4 1054.9,1163.2 1055.7,1163.2 1056.5,1163.7 1057.3,1163.8 1058.1,1163.5 1058.9,1163.4 1059.7,1163.2 1060.5,1163.8 1061.3,1163.3 1062.1,1163.7 1063.0,1163.8 1063.8,1163.8 1064.6,1163.6 1065.4,1163.5 1066.2,1163.6 1067.0,1163.8 1067.8,1163.3 1068.6,1163.2 1069.4,1163.7 1070.2,1163.5 1071.0,1163.4 1071.8,1163.7 1072.7,1163.4 1073.5,1163.3 1074.3,1163.5 1075.1,1163.8 1075.9,1163.3 1076.7,1163.6 1077.5,1163.1 1078.3,1162.6 1079.1,1163.2 1079.9,1162.9 1080.7,1162.6 1081.5,1163.1 1082.4,1163.0 1083.2,1163.4 1084.0,1163.4 1084.8,1163.8 1085.6,1163.2 1086.4,1163.1 1087.2,1163.1 1088.0,1163.0 1088.8,1163.5 1089.6,1163.6 1090.4,1163.0 1091.2,1163.2 1092.0,1163.2 1092.9,1163.3 1093.7,1162.8 1094.5,1162.7 1095.3,1162.9 1096.1,1162.0 1096.9,1162.3 1097.7,1162.6 1098.5,1163.0 1099.3,1162.2 1100.1,1162.2 1100.9,1162.3 1101.7,1162.5 1102.6,1163.0 1103.4,1162.9 1104.2,1162.5 1105.0,1162.7 1105.8,1163.4 1106.6,1163.0 1107.4,1163.1 1108.2,1162.6 1109.0,1162.9 1109.8,1162.9 1110.6,1163.0 1111.4,1163.1 1112.3,1163.1 1113.1,1162.7 1113.9,1162.7 1114.7,1162.8 1115.5,1164.3 1116.3,1163.0 1117.1,1163.1 1117.9,1163.3 1118.7,1163.2 1119.5,1163.5 1120.3,1163.6 1121.1,1163.4 1122.0,1163.0 1122.8,1163.2 1123.6,1162.9 1124.4,1162.4 1125.2,1162.8 1126.0,1164.2 1126.8,1163.0 1127.6,1163.2 1128.4,1163.3 1129.2,1163.9 1130.0,1163.3 1130.8,1163.3 1131.7,1163.4 1132.5,1163.5 1133.3,1162.9 1134.1,1163.1 1134.9,1163.0 1135.7,1163.5 1136.5,1163.2 1137.3,1163.4 1138.1,1162.8 1138.9,1164.0 1139.7,1164.0 1140.5,1163.7 1141.4,1163.7 1142.2,1163.3 1143.0,1163.6 1143.8,1163.4 1144.6,1164.0 1145.4,1163.9 1146.2,1163.7" fill="none" stroke="#058dc7" stroke-width="2.8"/></svg>
<svg style="position:absolute;left:0;top:0" width="3000" height="1803"><path d="M2586,1079 L2586,919 A160,160 0 1 1 2476.47,1195.63 Z" fill="#058dc7"/><path d="M2586,1079 L2476.47,1195.63 A160,160 0 0 1 2586,919 Z" fill="#50b432"/><path d="M2476.47,1195.63 L2586,1079 L2586,919" stroke="#fff" stroke-width="2" fill="none"/></svg>
<div class="t" id="k80" style="left:2451.4px;top:1022.7px;font-size:16.5px;color:#fff;transform-origin:0 50%;">38%</div>
<div class="t" id="k81" style="left:2688.3px;top:1117.5px;font-size:16.5px;color:#fff;transform-origin:0 50%;">62%</div>
<div style="position:absolute;left:2390.0px;top:864.0px;width:17.0px;height:18.5px;background:#058dc7;"></div>
<div class="t" id="k82" style="left:2415.2px;top:863.4px;font-size:22.5px;color:#222;transform-origin:0 50%;transform:scaleX(1.0312);">New Visitor</div>
<div style="position:absolute;left:2559.0px;top:864.0px;width:18.0px;height:18.5px;background:#50b432;"></div>
<div class="t" id="k83" style="left:2583.9px;top:863.4px;font-size:22.5px;color:#222;transform-origin:0 50%;transform:scaleX(1.0262);">Returning Visitor</div>
<div class="t" id="k84" style="left:504.8px;top:1299.1px;font-size:22px;color:#222;font-weight:bold;transform-origin:0 50%;transform:scaleX(0.9707);">Demographics</div>
<div style="position:absolute;left:495.9px;top:1327.5px;width:732.0px;height:1.6px;background:#555;"></div>
<div style="position:absolute;left:495.9px;top:1329.3px;width:732.0px;height:52.8px;background:#e0edf7;"></div>
<div class="t" id="k85" style="left:504.8px;top:1344.2px;font-size:22px;color:#222;transform-origin:0 50%;transform:scaleX(1.0274);">Language</div>
<svg style="position:absolute;left:1200.7px;top:1348px" width="8" height="13"><path d="M0 0L7.3 6.2L0 12.4z" fill="#666"/></svg>
<div class="t" id="k86" style="left:504.7px;top:1397.1px;font-size:22px;color:#058dc7;transform-origin:0 50%;transform:scaleX(1.0347);">Country</div>
<div class="t" id="k87" style="left:504.7px;top:1449.9px;font-size:22px;color:#058dc7;transform-origin:0 50%;transform:scaleX(1.0472);">City</div>
<div class="t" id="k88" style="left:505.8px;top:1509.9px;font-size:22px;color:#222;font-weight:bold;transform-origin:0 50%;transform:scaleX(0.9882);">System</div>
<div style="position:absolute;left:495.9px;top:1538.2px;width:732.0px;height:1.6px;background:#555;"></div>
<div class="t" id="k89" style="left:504.8px;top:1555.0px;font-size:22px;color:#058dc7;transform-origin:0 50%;transform:scaleX(1.0266);">Browser</div>
<div class="t" id="k90" style="left:504.8px;top:1608.4px;font-size:22px;color:#058dc7;transform-origin:0 50%;transform:scaleX(1.0225);">Operating System</div>
<div class="t" id="k91" style="left:504.8px;top:1661.4px;font-size:22px;color:#058dc7;transform-origin:0 50%;transform:scaleX(1.0069);">Service Provider</div>
<div class="t" id="k92" style="left:504.8px;top:1720.2px;font-size:22px;color:#222;font-weight:bold;transform-origin:0 50%;transform:scaleX(1.0164);">Mobile</div>
<div style="position:absolute;left:495.9px;top:1749.0px;width:732.0px;height:1.6px;background:#555;"></div>
<div class="t" id="k93" style="left:504.8px;top:1766.1px;font-size:22px;color:#058dc7;transform-origin:0 50%;transform:scaleX(1.0225);">Operating System</div>
<div class="t" id="k94" style="left:1311.4px;top:1299.1px;font-size:22px;color:#222;font-weight:bold;transform-origin:0 50%;transform:scaleX(0.9676);">Language</div>
<div class="t" id="k95" style="right:368.7px;top:1299.1px;font-size:22px;color:#222;font-weight:bold;transform-origin:100% 50%;transform:scaleX(0.9579);">Sessions</div>
<div class="t" id="k96" style="left:2658.1px;top:1299.1px;font-size:22px;color:#222;font-weight:bold;transform-origin:0 50%;transform:scaleX(0.9467);">% Sessions</div>
<div style="position:absolute;left:1263.0px;top:1327.5px;width:1672.0px;height:1.6px;background:#555;"></div>
<div style="position:absolute;left:1263.0px;top:1329.3px;width:1672.0px;height:52.9px;background:#f7f7f7;"></div>
<div style="position:absolute;left:1263.0px;top:1380.8px;width:1672.0px;height:1.5px;background:#dcdcdc;"></div>
<div class="t" id="k97" style="left:1276.4px;top:1344.2px;font-size:22px;color:#222;transform-origin:0 50%;margin-top:0.8px;">1.</div>
<div class="t" id="k98" style="left:1311.4px;top:1344.2px;font-size:22px;color:#058dc7;transform-origin:0 50%;transform:scaleX(1.0113);margin-top:0.8px;">en-us</div>
<div class="t" id="k99" style="right:368.6px;top:1344.2px;font-size:22px;color:#222;transform-origin:100% 50%;transform:scaleX(1.0063);margin-top:0.8px;">1,293,709</div>
<div style="position:absolute;left:2659.0px;top:1342.7px;width:97.7px;height:27.0px;background:#058dc7;"></div>
<div class="t" id="k100" style="left:2775.2px;top:1344.2px;font-size:22px;color:#222;transform-origin:0 50%;margin-top:0.8px;">58.08%</div>
<div style="position:absolute;left:1263.0px;top:1433.7px;width:1672.0px;height:1.5px;background:#dcdcdc;"></div>
<div class="t" id="k101" style="left:1276.4px;top:1397.1px;font-size:22px;color:#222;transform-origin:0 50%;margin-top:0.8px;">2.</div>
<div class="t" id="k102" style="left:1312.7px;top:1397.1px;font-size:22px;color:#058dc7;transform-origin:0 50%;margin-top:0.8px;">en-gb</div>
<div class="t" id="k103" style="right:369.8px;top:1397.1px;font-size:22px;color:#222;transform-origin:100% 50%;margin-top:0.8px;">266,219</div>
<div style="position:absolute;left:2659.0px;top:1395.6px;width:19.7px;height:27.0px;background:#058dc7;"></div>
<div class="t" id="k104" style="left:2697.2px;top:1397.1px;font-size:22px;color:#222;transform-origin:0 50%;margin-top:0.8px;">11.95%</div>
<div style="position:absolute;left:1263.0px;top:1435.1px;width:1672.0px;height:52.9px;background:#f7f7f7;"></div>
<div style="position:absolute;left:1263.0px;top:1486.6px;width:1672.0px;height:1.5px;background:#dcdcdc;"></div>
<div class="t" id="k105" style="left:1276.4px;top:1450.0px;font-size:22px;color:#222;transform-origin:0 50%;margin-top:0.8px;">3.</div>
<div class="t" id="k106" style="left:1312.7px;top:1450.0px;font-size:22px;color:#058dc7;transform-origin:0 50%;margin-top:0.8px;">c</div>
<div class="t" id="k107" style="right:369.8px;top:1450.0px;font-size:22px;color:#222;transform-origin:100% 50%;margin-top:0.8px;">183,134</div>
<div style="position:absolute;left:2659.0px;top:1448.5px;width:13.8px;height:27.0px;background:#058dc7;"></div>
<div class="t" id="k108" style="left:2691.3px;top:1450.0px;font-size:22px;color:#222;transform-origin:0 50%;margin-top:0.8px;">8.22%</div>
<div style="position:absolute;left:1263.0px;top:1539.5px;width:1672.0px;height:1.5px;background:#dcdcdc;"></div>
<div class="t" id="k109" style="left:1276.4px;top:1502.9px;font-size:22px;color:#222;transform-origin:0 50%;margin-top:0.8px;">4.</div>
<div class="t" id="k110" style="left:1312.7px;top:1502.9px;font-size:22px;color:#058dc7;transform-origin:0 50%;margin-top:0.8px;">en-in</div>
<div class="t" id="k111" style="right:369.8px;top:1502.9px;font-size:22px;color:#222;transform-origin:100% 50%;margin-top:0.8px;">42,588</div>
<div style="position:absolute;left:2659.0px;top:1501.4px;width:3.0px;height:27.0px;background:#058dc7;"></div>
<div class="t" id="k112" style="left:2679.5px;top:1502.9px;font-size:22px;color:#222;transform-origin:0 50%;margin-top:0.8px;">1.91%</div>
<div style="position:absolute;left:1263.0px;top:1540.9px;width:1672.0px;height:52.9px;background:#f7f7f7;"></div>
<div style="position:absolute;left:1263.0px;top:1592.4px;width:1672.0px;height:1.5px;background:#dcdcdc;"></div>
<div class="t" id="k113" style="left:1276.4px;top:1555.8px;font-size:22px;color:#222;transform-origin:0 50%;margin-top:0.8px;">5.</div>
<div class="t" id="k114" style="left:1312.7px;top:1555.8px;font-size:22px;color:#058dc7;transform-origin:0 50%;margin-top:0.8px;">pl-pl</div>
<div class="t" id="k115" style="right:369.8px;top:1555.8px;font-size:22px;color:#222;transform-origin:100% 50%;margin-top:0.8px;">38,440</div>
<div style="position:absolute;left:2659.0px;top:1554.3px;width:2.8px;height:27.0px;background:#058dc7;"></div>
<div class="t" id="k116" style="left:2679.5px;top:1555.8px;font-size:22px;color:#222;transform-origin:0 50%;margin-top:0.8px;">1.73%</div>
<div style="position:absolute;left:1263.0px;top:1645.3px;width:1672.0px;height:1.5px;background:#dcdcdc;"></div>
<div class="t" id="k117" style="left:1276.4px;top:1608.7px;font-size:22px;color:#222;transform-origin:0 50%;margin-top:0.8px;">6.</div>
<div class="t" id="k118" style="left:1312.7px;top:1608.7px;font-size:22px;color:#058dc7;transform-origin:0 50%;margin-top:0.8px;">es-es</div>
<div class="t" id="k119" style="right:369.8px;top:1608.7px;font-size:22px;color:#222;transform-origin:100% 50%;margin-top:0.8px;">37,404</div>
<div style="position:absolute;left:2659.0px;top:1607.2px;width:2.8px;height:27.0px;background:#058dc7;"></div>
<div class="t" id="k120" style="left:2679.5px;top:1608.7px;font-size:22px;color:#222;transform-origin:0 50%;margin-top:0.8px;">1.68%</div>
<div style="position:absolute;left:1263.0px;top:1646.7px;width:1672.0px;height:52.9px;background:#f7f7f7;"></div>
<div style="position:absolute;left:1263.0px;top:1698.2px;width:1672.0px;height:1.5px;background:#dcdcdc;"></div>
<div class="t" id="k121" style="left:1276.4px;top:1661.6px;font-size:22px;color:#222;transform-origin:0 50%;margin-top:0.8px;">7.</div>
<div class="t" id="k122" style="left:1312.7px;top:1661.6px;font-size:22px;color:#058dc7;transform-origin:0 50%;margin-top:0.8px;">en</div>
<div class="t" id="k123" style="right:369.8px;top:1661.6px;font-size:22px;color:#222;transform-origin:100% 50%;margin-top:0.8px;">32,451</div>
<div style="position:absolute;left:2659.0px;top:1660.1px;width:2.6px;height:27.0px;background:#058dc7;"></div>
<div class="t" id="k124" style="left:2679.5px;top:1661.6px;font-size:22px;color:#222;transform-origin:0 50%;margin-top:0.8px;">1.46%</div>
<div style="position:absolute;left:1263.0px;top:1751.1px;width:1672.0px;height:1.5px;background:#dcdcdc;"></div>
<div class="t" id="k125" style="left:1276.4px;top:1714.5px;font-size:22px;color:#222;transform-origin:0 50%;margin-top:0.8px;">8.</div>
<div class="t" id="k126" style="left:1312.7px;top:1714.5px;font-size:22px;color:#058dc7;transform-origin:0 50%;margin-top:0.8px;">fr-fr</div>
<div class="t" id="k127" style="right:369.8px;top:1714.5px;font-size:22px;color:#222;transform-origin:100% 50%;margin-top:0.8px;">27,154</div>
<div style="position:absolute;left:2659.0px;top:1713.0px;width:2.4px;height:27.0px;background:#058dc7;"></div>
<div class="t" id="k128" style="left:2679.5px;top:1714.5px;font-size:22px;color:#222;transform-origin:0 50%;margin-top:0.8px;">1.22%</div>
<div style="position:absolute;left:1263.0px;top:1752.5px;width:1672.0px;height:52.9px;background:#f7f7f7;"></div>
<div style="position:absolute;left:1263.0px;top:1804.0px;width:1672.0px;height:1.5px;background:#dcdcdc;"></div>
<div class="t" id="k129" style="left:1276.4px;top:1767.4px;font-size:22px;color:#222;transform-origin:0 50%;margin-top:0.8px;">9.</div>
<div class="t" id="k130" style="left:1312.7px;top:1767.4px;font-size:22px;color:#058dc7;transform-origin:0 50%;margin-top:0.8px;">tr-tr</div>
<div class="t" id="k131" style="right:369.8px;top:1767.4px;font-size:22px;color:#222;transform-origin:100% 50%;margin-top:0.8px;">24,240</div>
<div style="position:absolute;left:2659.0px;top:1765.9px;width:2.2px;height:27.0px;background:#058dc7;"></div>
<div class="t" id="k132" style="left:2679.5px;top:1767.4px;font-size:22px;color:#222;transform-origin:0 50%;margin-top:0.8px;">1.09%</div>
<div style="position:absolute;left:2981.0px;top:110.0px;width:19.0px;height:1693.0px;background:#f1f1f1;border-left:1px solid #e0e0e0;box-sizing:border-box;"></div>
<div style="position:absolute;left:2981.0px;top:110.0px;width:19.0px;height:1447.5px;background:#c2c2c2;border-left:2px solid #9a9a9a;box-sizing:border-box;"></div>
</body></html>
